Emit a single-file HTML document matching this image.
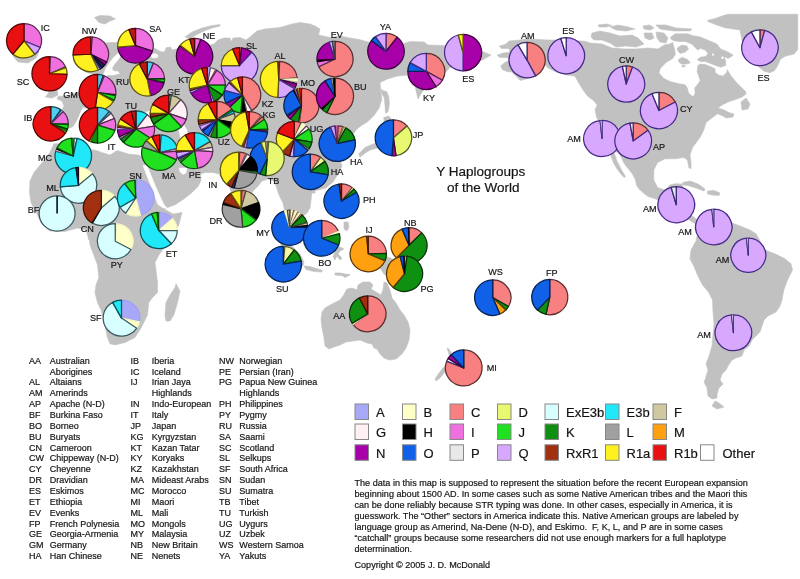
<!DOCTYPE html><html><head><meta charset="utf-8"><title>Y Haplogroups of the World</title><style>
html,body{margin:0;padding:0;background:#fff}body{width:800px;height:579px;position:relative;overflow:hidden;font-family:"Liberation Sans",sans-serif;color:#111}
.t{position:absolute;white-space:nowrap;line-height:1;-webkit-text-stroke:.2px #222}
.m{font-size:9.1px}.l{font-size:9px}.g{font-size:13px}.h{font-size:13.5px}.p{font-size:9.1px}
</style></head><body>
<svg width="800" height="579" viewBox="0 0 800 579" style="position:absolute;left:0;top:0"><g fill="#c1c1c1" stroke="#c1c1c1" stroke-width=".6" stroke-linejoin="round"><path d="M112 42.5 L104 43 L96 45 L88 50 L82 57 L79 64 L82 70 L88 73 L94 74 L97 76 L101 78 L95 80 L92 86 L88 90 L82 91 L76 93 L70 95 L64 96 L58 96.5 L57 99 L62 101 L64 106 L62 110 L54 110 L45 109 L44 114 L45 122 L44 128 L50 131 L60 131 L66 129 L72.5 127 L75 123.5 L77.5 118.8 L80.5 111.5 L83 107 L88 109 L94 114 L100 120 L107 127 L112 132 L109 135 L104 131 L106 124 L100 118 L103 114 L108 118 L114 125 L118 131 L120 137 L123 138 L125 132 L128 130 L126 134 L125 140 L130 144 L138 144 L146 143 L150 146 L148 153 L146 160 L144 166 L148 170 L153 182 L158 193 L162 203 L166.5 208 L175.5 204.5 L184.5 198.5 L192 192.5 L198 186.5 L201 180.5 L200.5 174 L205 172.5 L213 172.5 L219 174 L222 179 L226 181 L229 186 L232 194 L236 204 L239 214 L241 217 L244 208 L248 198 L253 191 L258 186 L262 181 L268 179 L274 181 L276 186 L279 195 L283 203 L285 213 L288 224 L293 234 L298 243 L301 243 L300 236 L298 226 L303 216 L307 213 L310 208 L311 200 L312 191 L318 190 L326 188 L333 182 L338 174 L342 166 L339 158 L341 151 L345 148 L348 152 L351 154 L353 150 L353 145 L351 139 L351 136 L354 133 L356.6 129.2 L361.6 125.4 L367.9 121.6 L374.2 115.3 L379.3 107.7 L381.8 98.9 L380.5 88.8 L380 82.5 L387.5 79 L397.5 76 L409 75 L413 80 L415.5 88 L418 99 L422 92 L427 87 L431 83 L444 74 L450 67.5 L470 62 L482.5 60 L491 55 L481 51 L470 48 L445 45.5 L428 45 L424 42 L410 41.5 L404 43.5 L386 43 L371 42.75 L360 39.75 L350 38 L340 36 L330 37.5 L318.5 35 L320 29 L315 26 L310 24 L300 22.5 L292 24 L280 27.5 L265 29 L257 31 L250 37 L246 40 L240 37.5 L233 38 L231 42 L230 38 L224 38 L218 40 L214 44 L206 46 L196 48 L188 50 L182 49 L176.5 49 L172 50 L170.5 47 L166 47.8 L164.5 52 L160 51.5 L157 49.5 L153 47.5 L146 46 L138 44.5 L130 43 L122 42.5Z" fill="#c1c1c1" /><path d="M53.8 143.8 L50 152.5 L41 164 L34 172.5 L30 181 L29.5 192.5 L31 202.5 L37.5 215 L42 224 L50 231 L65 231.5 L77.5 228 L86 230 L89 240 L89 236 L90 245 L93.8 255 L97.5 265 L98.8 277.5 L96 285 L95 292.5 L97.5 302.5 L101 310 L104 322 L107.5 337.5 L110 343.8 L115 345 L125 342.5 L135 337.5 L141 328 L147.5 315 L148.8 302.5 L152.5 297.5 L157.5 292.5 L157.5 282.5 L156 270 L155 262.5 L158.8 255 L162.5 250 L170 240 L178.8 225 L182 212.5 L173 214 L166 210 L162 205 L157 196 L151 184 L146 172 L146 164 L142.25 157.25 L138.5 155 L129.5 154.25 L122 152 L116.75 150.5 L113.75 152.75 L110 155 L102.5 152.75 L96.5 150.5 L92 149.75 L86 146 L80 144 L66 144Z" fill="#c1c1c1" /><path d="M176 283.8 L180 291 L177.5 302.5 L173.8 315 L170 321 L166 321 L165 315 L166 302.5 L170 295 L175 287.5Z" fill="#c1c1c1" /><path d="M499.25 46.25 L506 44 L509 41 L518 40.25 L527.5 38.8 L547.5 40 L566 40 L585 41.3 L590 43 L602 44 L612 48 L624 49 L636 49 L648 48 L658 49 L664 45 L670 44 L673 42 L700.4 63.5 L705.5 64.1 L710.5 66 L715.6 68.5 L720.6 67.9 L725.7 68.5 L726.9 69.1 L730.7 75.4 L735.8 81.7 L740.8 86.8 L745.8 91.8 L746 94 L742 97 L734 100 L728 102 L722 105 L718 108 L724 110 L730 113 L734 114 L733 117 L726 118 L723 116 L717.5 113.8 L712.5 117.5 L706 122.5 L703.8 130 L700 137.5 L692.5 147.5 L690 155 L691 162.5 L691 168.8 L688.8 167.5 L687.5 160 L683.8 157.5 L675 158.8 L665 158.8 L657.5 162.5 L653.8 170 L653.8 180 L657.5 187.5 L665 190 L670 185 L675 183.8 L682 184 L684 190 L680 196 L684 200 L690 205 L694 212 L690 214 L696 219 L700 222 L697 224 L692 222 L688 219 L680 212 L670 205 L657.5 199.5 L648 196.5 L643.5 193 L639 189 L636.5 185 L635.5 180 L632.5 174 L628.5 169 L624.5 164 L621 157 L618 152 L612.5 152 L598 120 L596.5 117 L595 109.5 L597.25 105 L593.5 100.5 L587.5 96 L583 90 L578.5 82.5 L575 76.25 L566 74.75 L556 72 L548 68 L544.25 63.5 L540 70 L535 76 L528 78.5 L520 80.5 L518 78 L511.25 71.75 L507.5 71.75 L502.25 69.5 L500.75 65.75 L504.5 62.75 L509 60.5 L507.5 57.5 L500 57.5 L497 55.25 L503 53 L509.75 52.25 L509 48.5 L501.5 48.5Z" fill="#c1c1c1" /><path d="M611 153 L614 152 L616.5 160 L619 165 L621.5 170 L625.5 176.5 L624 177.5 L620 173 L616.5 168 L613.5 163 L611 156Z" fill="#c1c1c1" /><path d="M696 222 L700 218 L708 214 L716 212 L724 216 L731 222.5 L740 226 L750 230 L756 233.8 L765 250 L775 253.8 L785 258.8 L791 263.8 L792.5 270 L787.5 280 L783.8 290 L782 300 L780 306 L776 312 L768 316 L764 320 L762 326 L760 332 L752 340 L749 346 L744 350 L742 356 L736 358 L732 360 L728 366 L726 370 L722 374 L720 380 L723 384 L719 388 L717 394 L717 398 L712 399 L708 396 L707 388 L704 382 L705 380 L708 370 L706 364 L709 356 L712 346 L714 324 L713 312 L712.5 300 L708.8 292.5 L702.5 285 L697.5 275 L693.8 266 L690 258.8 L691 250 L696 241 L698 232 L695 226Z" fill="#c1c1c1" /><path d="M715 401 L712 406 L717 409 L724 407 L719 403Z" fill="#c1c1c1" /><path d="M707.75 20.25 L714.5 18.75 L722 16 L728 14.25 L797.75 14.25 L797.75 49.5 L794 54 L785 56.25 L780.5 59.25 L777.5 66 L774.5 70.5 L770 72.75 L764 71.25 L759.5 67.5 L750 60 L745 50 L742 40 L740 30 L725 27.75 L716 24.75 L708 21.5Z" fill="#c1c1c1" /><path d="M322 312 L325 308 L332 304 L340 300 L343 296 L347 289 L352 288 L357 290 L358 285 L363 282 L370 282 L373 285 L371 289 L376 292 L381 295 L383 290 L384 282 L387 283 L390 290 L392 298 L396 303 L400 310 L404 315 L408 322 L410 330 L409 340 L406 348 L402 354 L396 359 L389 360 L384 358 L380 354 L377 349 L374 348 L372 344 L367 343 L360 340 L353 341 L346 342 L340 345 L334 347 L329 349 L325 346 L324 338 L322 328 L321 319Z" fill="#c1c1c1" /><path d="M12 50 L16 44 L26 41 L36 44 L39 52 L36 58 L28 63 L18 62 L13 56Z" fill="#c1c1c1" /><path d="M44 78 L50 76 L54 82 L57 90 L58 95 L52 98 L45.5 97 L49 92 L46 86Z" fill="#c1c1c1" /><path d="M94.5 17.5 L100 15.5 L110 16 L115.5 19 L110 21 L105 24 L99 22.5Z" fill="#c1c1c1" /><path d="M185 37 L192 32 L202 28 L212 25.5 L220 24.5 L220 26 L212 28 L204 31 L196 35 L190 39Z" fill="#c1c1c1" /><path d="M682.5 182.5 L690 181 L698 184 L705 189 L704 191 L696 188 L688 185.5 L683 185Z" fill="#c1c1c1" /><path d="M707.5 191 L714 190.5 L720 193 L719 195.5 L712 195 L707.5 194Z" fill="#c1c1c1" /><path d="M741 102 L746 98 L750 104 L748 109 L742 110Z" fill="#c1c1c1" /><path d="M357 250 L365 246 L372 250 L380 254 L390 258 L400 262 L408 268 L412 274 L416 280 L410 280 L404 276 L396 276 L390 277 L384 274 L380 268 L374 264 L366 262 L360 258Z" fill="#c1c1c1" /><path d="M311 190 L315 190 L315 193 L311 193Z" fill="#c1c1c1" /><path d="M344 222 L348 222 L349 227 L347 231 L344 229Z" fill="#c1c1c1" /><path d="M334 248 L340 247 L344 249 L340 251 L338 254 L342 258 L340 260 L337 256 L335 260 L333 257 L335 252Z" fill="#c1c1c1" /><path d="M304 266 L310 266.5 L318 269 L322 270 L322 272 L314 271.5 L306 269.5Z" fill="#c1c1c1" /><path d="M335 273 L340 273 L348 274.5 L347 276 L340 275.5 L335 275Z" fill="#c1c1c1" /><path d="M343 276 L349 274 L350 275 L345 277.5Z" fill="#c1c1c1" /><path d="M278 238 L284 240 L292 246 L300 254 L304 262 L303 266 L298 264 L290 256 L282 247Z" fill="#c1c1c1" /><path d="M312 232 L320 228 L330 226 L334 234 L332 244 L326 252 L318 254 L313 246Z" fill="#c1c1c1" /><path d="M358.8 153.8 L365 147.5 L373.8 143.8 L380 140 L384 132 L386 125 L389 126 L388 134 L385 142 L378 148 L370 150 L364 154 L360 157Z" fill="#c1c1c1" /><path d="M383.8 117.5 L388.8 116 L391 119 L388 121.5 L384 122Z" fill="#c1c1c1" /><path d="M381 89 L383.7 91 L386.5 91.3 L388.7 96.4 L389.4 104 L388.1 111.5 L385.6 113.4 L385 105.2 L384.3 97.7 L382 94Z" fill="#c1c1c1" /><path d="M335 170 L337.5 169 L337.5 175 L335.5 176Z" fill="#c1c1c1" /><path d="M243 217 L246 218 L246.5 223 L244 224 L242.5 221Z" fill="#c1c1c1" /><path d="M447 348 L449 349 L452 354 L455 357 L453 360 L450 358 L449 354Z" fill="#c1c1c1" /><path d="M447 364 L449 366 L445 372 L440 378 L436 381 L435 379 L439 373 L443 368Z" fill="#c1c1c1" /><path d="M592 33 L600 31 L610 33 L620 36 L632 35 L638 38 L644 44 L636 47 L626 46 L616 47 L610 43 L602 40 L594 40 L591 37Z" fill="#c1c1c1" /><path d="M598 25 L606 24 L612 25.5 L606 27 L599 27Z" fill="#c1c1c1" /><path d="M610 27 L618 25 L628 27 L635 29 L626 31 L616 30Z" fill="#c1c1c1" /><path d="M643 26 L650 25 L654 28 L650 30 L644 29Z" fill="#c1c1c1" /><path d="M656 25 L666 25 L676 28 L692 29 L690 31 L674 31 L660 29Z" fill="#c1c1c1" /><path d="M644 33 L652 33 L654 38 L650 40 L645 38Z" fill="#c1c1c1" /><path d="M656 32 L664 33 L668 38 L666 43 L660 42 L657 38Z" fill="#c1c1c1" /></g><g fill="#fff" stroke="#fff" stroke-width=".4"><path d="M673 42 L675.2 50.2 L675.9 54.6 L672.7 59 L666.4 62.8 L660.7 68.5 L659.5 72.9 L663.9 78 L670.2 81.1 L677.7 83 L685.3 84.3 L687.8 88 L689.1 93.1 L692.9 96.2 L694.8 93.1 L694.1 88 L697.3 84.3 L699.8 80.5 L698.5 76.7 L696.7 71.7 L697.3 65.4 L700.4 63.5 L705.5 64.1 L710.5 66 L715.6 68.5 L715.6 72.3 L718.7 74.8 L723.1 75.4 L726.3 72.3 L726.9 69.1 L730 66 L734 60 L736 54 L730 48 L720 42 L710 38 L700 34 L688 31.8 L676 32 L671 36Z" fill="#fff" /><path d="M143 165.5 L146.75 164.75 L151 175 L155 185 L159.5 195 L164 204.5 L167 208 L163 208 L158 204.5 L154 195 L150.5 185 L146.5 175Z" fill="#fff" /><path d="M179 168 L187 168 L186 173 L183 174.5 L180 172Z" fill="#fff" /><path d="M119 52.5 L121.5 55 L118 60 L114.5 64 L112 68 L113 71 L118 71.5 L119.5 73.5 L113 75 L108 75 L105 78 L101 78 L104 73 L106 68 L110 62 L114 57Z" fill="#fff" /><path d="M151.5 54.5 L155 53.5 L158 55 L157.5 57.5 L153 58 L151 56.5Z" fill="#fff" /><path d="M178 115 L183 113 L186 117 L183.5 121 L184.5 126 L187 130 L187.5 136 L184.5 140 L180.5 139 L179.5 133 L178 128 L179 122Z" fill="#fff" /><path d="M130 118 L138 116 L146 112 L152 110.5 L156 114 L160 119 L156 122 L148 121 L140 123 L133 122Z" fill="#fff" /></g><g fill="#c1c1c1" stroke="#c1c1c1" stroke-width=".6" stroke-linejoin="round"><path d="M670.8 37 L675.2 33.8 L687.8 33.8 L692.9 35.7 L700.4 37 L709.3 40.8 L716.8 43.9 L720.6 49 L728.2 52.1 L733.2 55.3 L728.2 58.4 L724.4 56.5 L725.7 61.6 L725.7 65.4 L720.6 67.2 L715.6 65.4 L710.5 63.5 L705.5 61.6 L700.4 61.6 L697.3 59.7 L700.4 57.2 L705.5 56.5 L708 53.4 L705.5 50.2 L700.4 48.3 L697.9 50.2 L695.4 47.7 L691.6 43.9 L685.3 41.4 L679 41.4 L674 40.8 L670.8 38.9Z" fill="#c1c1c1" /><path d="M677.1 48.3 L681.5 45.2 L686.6 45.8 L688.5 49 L685.3 52.1 L680.3 53.4 L677.7 50.9Z" fill="#c1c1c1" /><path d="M678.4 59.7 L682.2 57.2 L687.8 59.7 L690.4 62.8 L686.6 64.1 L681.5 64.1 L679 62.2Z" fill="#c1c1c1" /><path d="M682 65.3 L685 65.3 L685 66.8 L682 66.8Z" fill="#c1c1c1" /></g><g fill="#fff"><circle cx="700.4" cy="51" r="1.4"/><circle cx="713" cy="54.6" r="1.1"/><circle cx="722.5" cy="57.8" r="1.3"/></g><g stroke-linejoin="round" stroke-linecap="butt"><path d="M24 40.75L24 23.52A17.57 17.23 0 0 1 40.18 47.48Z" fill="#F070E0" stroke="#562850" stroke-width="1.25"/><path d="M24 40.75L40.18 47.48A17.57 17.23 0 0 1 34.82 54.32Z" fill="#D8A8FF" stroke="#452a88" stroke-width="1.25"/><path d="M24 40.75L34.82 54.32A17.57 17.23 0 0 1 12.94 54.14Z" fill="#FFF020" stroke="#5b560b" stroke-width="1.25"/><path d="M24 40.75L12.94 54.14A17.57 17.23 0 0 1 24 23.52Z" fill="#E81010" stroke="#530505" stroke-width="1.25"/></g><g stroke-linejoin="round" stroke-linecap="butt"><path d="M49.5 73.75L49.5 56.52A17.57 17.23 0 0 1 50.42 56.55Z" fill="#109010" stroke="#053305" stroke-width="0.4"/><path d="M49.5 73.75L50.42 56.55A17.57 17.23 0 0 1 65.55 66.74Z" fill="#F070E0" stroke="#562850" stroke-width="1.25"/><path d="M49.5 73.75L65.55 66.74A17.57 17.23 0 0 1 65.91 67.58Z" fill="#109010" stroke="#053305" stroke-width="0.4"/><path d="M49.5 73.75L65.91 67.58A17.57 17.23 0 0 1 67.06 74.35Z" fill="#FFF020" stroke="#5b560b" stroke-width="1.25"/><path d="M49.5 73.75L67.06 74.35A17.57 17.23 0 1 1 49.5 56.52Z" fill="#E81010" stroke="#530505" stroke-width="1.25"/></g><g stroke-linejoin="round" stroke-linecap="butt"><path d="M50.75 123.8L50.75 106.57A17.57 17.23 0 0 1 60.83 109.69Z" fill="#50D0F0" stroke="#1c4a56" stroke-width="1.25"/><path d="M50.75 123.8L60.83 109.69A17.57 17.23 0 0 1 61.57 110.23Z" fill="#203090" stroke="#0b1133" stroke-width="0.4"/><path d="M50.75 123.8L61.57 110.23A17.57 17.23 0 0 1 63.18 111.62Z" fill="#50D0F0" stroke="#1c4a56" stroke-width="0.8"/><path d="M50.75 123.8L63.18 111.62A17.57 17.23 0 0 1 68.32 123.8Z" fill="#F070E0" stroke="#562850" stroke-width="1.25"/><path d="M50.75 123.8L68.32 123.8A17.57 17.23 0 0 1 68.3 124.7Z" fill="#109010" stroke="#053305" stroke-width="0.4"/><path d="M50.75 123.8L68.3 124.7A17.57 17.23 0 0 1 67.46 129.12Z" fill="#20E020" stroke="#0b500b" stroke-width="1.25"/><path d="M50.75 123.8L67.46 129.12A17.57 17.23 0 0 1 66.27 131.89Z" fill="#109010" stroke="#053305" stroke-width="1.25"/><path d="M50.75 123.8L66.27 131.89A17.57 17.23 0 0 1 65.65 132.93Z" fill="#FFF020" stroke="#5b560b" stroke-width="0.4"/><path d="M50.75 123.8L65.65 132.93A17.57 17.23 0 1 1 50.75 106.57Z" fill="#E81010" stroke="#530505" stroke-width="1.25"/></g><g stroke-linejoin="round" stroke-linecap="butt"><path d="M90.8 54.25L90.8 36.83A17.78 17.42 0 0 1 92.35 36.89Z" fill="#20E8F8" stroke="#0b5359" stroke-width="0.8"/><path d="M90.8 54.25L92.35 36.89A17.78 17.42 0 0 1 106.64 62.16Z" fill="#F070E0" stroke="#562850" stroke-width="1.25"/><path d="M90.8 54.25L106.64 62.16A17.78 17.42 0 0 1 104.81 64.98Z" fill="#A800A8" stroke="#3c003c" stroke-width="1.25"/><path d="M90.8 54.25L104.81 64.98A17.78 17.42 0 0 1 102.23 67.6Z" fill="#302050" stroke="#110b1c" stroke-width="1.25"/><path d="M90.8 54.25L102.23 67.6A17.78 17.42 0 0 1 99.69 69.34Z" fill="#203090" stroke="#0b1133" stroke-width="1.25"/><path d="M90.8 54.25L99.69 69.34A17.78 17.42 0 0 1 98.31 70.04Z" fill="#FFF0F4" stroke="#5a4460" stroke-width="0.8"/><path d="M90.8 54.25L98.31 70.04A17.78 17.42 0 0 1 73.03 54.86Z" fill="#FFF020" stroke="#5b560b" stroke-width="1.25"/><path d="M90.8 54.25L73.03 54.86A17.78 17.42 0 0 1 90.8 36.83Z" fill="#E81010" stroke="#530505" stroke-width="1.25"/></g><g stroke-linejoin="round" stroke-linecap="butt"><path d="M135.5 45.7L135.5 28.28A17.78 17.42 0 0 1 152.41 51.08Z" fill="#F070E0" stroke="#562850" stroke-width="1.25"/><path d="M135.5 45.7L152.41 51.08A17.78 17.42 0 0 1 117.79 47.22Z" fill="#A800A8" stroke="#3c003c" stroke-width="1.25"/><path d="M135.5 45.7L117.79 47.22A17.78 17.42 0 0 1 128.84 29.54Z" fill="#FFF020" stroke="#5b560b" stroke-width="1.25"/><path d="M135.5 45.7L128.84 29.54A17.78 17.42 0 0 1 135.5 28.28Z" fill="#C01818" stroke="#450808" stroke-width="1.25"/></g><g stroke-linejoin="round" stroke-linecap="butt"><path d="M97.5 92.5L97.5 74.48A18.38 18.02 0 0 1 103.18 75.36Z" fill="#50D0F0" stroke="#1c4a56" stroke-width="1.25"/><path d="M97.5 92.5L103.18 75.36A18.38 18.02 0 0 1 104.39 75.79Z" fill="#203090" stroke="#0b1133" stroke-width="0.4"/><path d="M97.5 92.5L104.39 75.79A18.38 18.02 0 0 1 115.74 94.7Z" fill="#F070E0" stroke="#562850" stroke-width="1.25"/><path d="M97.5 92.5L115.74 94.7A18.38 18.02 0 0 1 115.6 95.63Z" fill="#000000" stroke="#000000" stroke-width="0.4"/><path d="M97.5 92.5L115.6 95.63A18.38 18.02 0 0 1 114.16 100.11Z" fill="#20E020" stroke="#0b500b" stroke-width="1.25"/><path d="M97.5 92.5L114.16 100.11A18.38 18.02 0 0 1 113.42 101.51Z" fill="#109010" stroke="#053305" stroke-width="0.8"/><path d="M97.5 92.5L113.42 101.51A18.38 18.02 0 0 1 94.94 110.34Z" fill="#FFF020" stroke="#5b560b" stroke-width="1.25"/><path d="M97.5 92.5L94.94 110.34A18.38 18.02 0 0 1 97.5 74.48Z" fill="#E81010" stroke="#530505" stroke-width="1.25"/></g><g stroke-linejoin="round" stroke-linecap="butt"><path d="M97.5 125.2L97.5 107.38A18.18 17.82 0 0 1 109.19 111.55Z" fill="#50D0F0" stroke="#1c4a56" stroke-width="1.25"/><path d="M97.5 125.2L109.19 111.55A18.18 17.82 0 0 1 111.01 113.28Z" fill="#50D0F0" stroke="#1c4a56" stroke-width="1.25"/><path d="M97.5 125.2L111.01 113.28A18.18 17.82 0 0 1 114.36 118.52Z" fill="#FFF0F4" stroke="#5a4460" stroke-width="1.25"/><path d="M97.5 125.2L114.36 118.52A18.18 17.82 0 0 1 114.89 130.41Z" fill="#F070E0" stroke="#562850" stroke-width="1.25"/><path d="M97.5 125.2L114.89 130.41A18.18 17.82 0 0 1 97.5 143.02Z" fill="#20E020" stroke="#0b500b" stroke-width="1.25"/><path d="M97.5 125.2L97.5 143.02A18.18 17.82 0 0 1 90.4 141.6Z" fill="#109010" stroke="#053305" stroke-width="1.25"/><path d="M97.5 125.2L90.4 141.6A18.18 17.82 0 0 1 89.25 141.08Z" fill="#FFF020" stroke="#5b560b" stroke-width="0.4"/><path d="M97.5 125.2L89.25 141.08A18.18 17.82 0 0 1 97.5 107.38Z" fill="#E81010" stroke="#530505" stroke-width="1.25"/></g><g stroke-linejoin="round" stroke-linecap="butt"><path d="M147.2 79L147.2 61.97A17.37 17.03 0 0 1 153.43 63.1Z" fill="#50D0F0" stroke="#1c4a56" stroke-width="1.25"/><path d="M147.2 79L153.43 63.1A17.37 17.03 0 0 1 164.56 78.41Z" fill="#F070E0" stroke="#562850" stroke-width="1.25"/><path d="M147.2 79L164.56 78.41A17.37 17.03 0 0 1 164.57 79Z" fill="#000000" stroke="#000000" stroke-width="0.4"/><path d="M147.2 79L164.57 79A17.37 17.03 0 0 1 164.31 81.96Z" fill="#20E020" stroke="#0b500b" stroke-width="1.25"/><path d="M147.2 79L164.31 81.96A17.37 17.03 0 0 1 164.06 83.12Z" fill="#109010" stroke="#053305" stroke-width="0.4"/><path d="M147.2 79L164.06 83.12A17.37 17.03 0 0 1 150.51 95.72Z" fill="#A800A8" stroke="#3c003c" stroke-width="1.25"/><path d="M147.2 79L150.51 95.72A17.37 17.03 0 0 1 139.31 63.83Z" fill="#FFF020" stroke="#5b560b" stroke-width="1.25"/><path d="M147.2 79L139.31 63.83A17.37 17.03 0 0 1 147.2 61.97Z" fill="#C01818" stroke="#450808" stroke-width="1.25"/></g><g stroke-linejoin="round" stroke-linecap="butt"><path d="M136 129L136 110.78A18.58 18.22 0 0 1 147.44 114.65Z" fill="#20E8F8" stroke="#0b5359" stroke-width="1.25"/><path d="M136 129L147.44 114.65A18.58 18.22 0 0 1 154.36 126.15Z" fill="#FFF0F4" stroke="#5a4460" stroke-width="1.25"/><path d="M136 129L154.36 126.15A18.58 18.22 0 0 1 151.59 138.92Z" fill="#F070E0" stroke="#562850" stroke-width="1.25"/><path d="M136 129L151.59 138.92A18.58 18.22 0 0 1 123.33 142.32Z" fill="#20E020" stroke="#0b500b" stroke-width="1.25"/><path d="M136 129L123.33 142.32A18.58 18.22 0 0 1 120.41 138.92Z" fill="#109010" stroke="#053305" stroke-width="1.25"/><path d="M136 129L120.41 138.92A18.58 18.22 0 0 1 119.16 136.7Z" fill="#A0A0A0" stroke="#393939" stroke-width="1.25"/><path d="M136 129L119.16 136.7A18.58 18.22 0 0 1 117.43 129.64Z" fill="#A800A8" stroke="#3c003c" stroke-width="1.25"/><path d="M136 129L117.43 129.64A18.58 18.22 0 0 1 117.49 127.41Z" fill="#D8A8FF" stroke="#452a88" stroke-width="0.8"/><path d="M136 129L117.49 127.41A18.58 18.22 0 0 1 117.82 125.21Z" fill="#A03010" stroke="#391105" stroke-width="0.8"/><path d="M136 129L117.82 125.21A18.58 18.22 0 0 1 120.41 119.08Z" fill="#FFF020" stroke="#5b560b" stroke-width="1.25"/><path d="M136 129L120.41 119.08A18.58 18.22 0 0 1 131.19 111.4Z" fill="#E81010" stroke="#530505" stroke-width="1.25"/><path d="M136 129L131.19 111.4A18.58 18.22 0 0 1 136 110.78Z" fill="#C01818" stroke="#450808" stroke-width="1.25"/></g><g stroke-linejoin="round" stroke-linecap="butt"><path d="M168.75 113.4L168.75 95.18A18.58 18.22 0 0 1 171.34 95.36Z" fill="#20E8F8" stroke="#0b5359" stroke-width="1.25"/><path d="M168.75 113.4L171.34 95.36A18.58 18.22 0 0 1 180.94 99.65Z" fill="#D0C8A0" stroke="#4a4839" stroke-width="1.25"/><path d="M168.75 113.4L180.94 99.65A18.58 18.22 0 0 1 186.32 119.33Z" fill="#FFF0F4" stroke="#5a4460" stroke-width="1.25"/><path d="M168.75 113.4L186.32 119.33A18.58 18.22 0 0 1 181.42 126.72Z" fill="#F070E0" stroke="#562850" stroke-width="1.25"/><path d="M168.75 113.4L181.42 126.72A18.58 18.22 0 0 1 153.72 124.11Z" fill="#20E020" stroke="#0b500b" stroke-width="1.25"/><path d="M168.75 113.4L153.72 124.11A18.58 18.22 0 0 1 150.57 117.19Z" fill="#109010" stroke="#053305" stroke-width="1.25"/><path d="M168.75 113.4L150.57 117.19A18.58 18.22 0 0 1 150.17 113.08Z" fill="#A03010" stroke="#391105" stroke-width="1.25"/><path d="M168.75 113.4L150.17 113.08A18.58 18.22 0 0 1 152.66 104.29Z" fill="#FFF020" stroke="#5b560b" stroke-width="1.25"/><path d="M168.75 113.4L152.66 104.29A18.58 18.22 0 0 1 168.75 95.18Z" fill="#E81010" stroke="#530505" stroke-width="1.25"/></g><g stroke-linejoin="round" stroke-linecap="butt"><path d="M159.75 152.6L159.75 134.78A18.18 17.82 0 0 1 161.33 134.85Z" fill="#FFF0F4" stroke="#5a4460" stroke-width="0.8"/><path d="M159.75 152.6L161.33 134.85A18.18 17.82 0 0 1 177.46 148.59Z" fill="#20E8F8" stroke="#0b5359" stroke-width="1.25"/><path d="M159.75 152.6L177.46 148.59A18.18 17.82 0 0 1 177.86 151.05Z" fill="#FFF0F4" stroke="#5a4460" stroke-width="1.25"/><path d="M159.75 152.6L177.86 151.05A18.18 17.82 0 0 1 176.36 159.85Z" fill="#F070E0" stroke="#562850" stroke-width="1.25"/><path d="M159.75 152.6L176.36 159.85A18.18 17.82 0 0 1 142.46 147.09Z" fill="#20E020" stroke="#0b500b" stroke-width="1.25"/><path d="M159.75 152.6L142.46 147.09A18.18 17.82 0 0 1 146.45 140.45Z" fill="#A0A0A0" stroke="#393939" stroke-width="1.25"/><path d="M159.75 152.6L146.45 140.45A18.18 17.82 0 0 1 151.78 136.58Z" fill="#FFF020" stroke="#5b560b" stroke-width="1.25"/><path d="M159.75 152.6L151.78 136.58A18.18 17.82 0 0 1 159.75 134.78Z" fill="#E81010" stroke="#530505" stroke-width="1.25"/></g><g stroke-linejoin="round" stroke-linecap="butt"><path d="M194.45 150.6L194.45 132.68A18.28 17.92 0 0 1 210.28 141.64Z" fill="#20E8F8" stroke="#0b5359" stroke-width="1.25"/><path d="M194.45 150.6L210.28 141.64A18.28 17.92 0 0 1 212.45 147.49Z" fill="#D0C8A0" stroke="#4a4839" stroke-width="1.25"/><path d="M194.45 150.6L212.45 147.49A18.28 17.92 0 0 1 212.71 151.54Z" fill="#FFF0F4" stroke="#5a4460" stroke-width="1.25"/><path d="M194.45 150.6L212.71 151.54A18.28 17.92 0 0 1 197.62 168.25Z" fill="#F070E0" stroke="#562850" stroke-width="1.25"/><path d="M194.45 150.6L197.62 168.25A18.28 17.92 0 0 1 180.65 162.36Z" fill="#20E020" stroke="#0b500b" stroke-width="1.25"/><path d="M194.45 150.6L180.65 162.36A18.28 17.92 0 0 1 179.29 160.62Z" fill="#109010" stroke="#053305" stroke-width="0.8"/><path d="M194.45 150.6L179.29 160.62A18.28 17.92 0 0 1 178.46 159.29Z" fill="#A0A0A0" stroke="#393939" stroke-width="0.8"/><path d="M194.45 150.6L178.46 159.29A18.28 17.92 0 0 1 177.75 157.89Z" fill="#203090" stroke="#0b1133" stroke-width="0.8"/><path d="M194.45 150.6L177.75 157.89A18.28 17.92 0 0 1 176.24 152.16Z" fill="#D8A8FF" stroke="#452a88" stroke-width="1.25"/><path d="M194.45 150.6L176.24 152.16A18.28 17.92 0 0 1 176.17 150.29Z" fill="#A03010" stroke="#391105" stroke-width="0.8"/><path d="M194.45 150.6L176.17 150.29A18.28 17.92 0 0 1 185.31 135.08Z" fill="#FFF020" stroke="#5b560b" stroke-width="1.25"/><path d="M194.45 150.6L185.31 135.08A18.28 17.92 0 0 1 194.45 132.68Z" fill="#E81010" stroke="#530505" stroke-width="1.25"/></g><g stroke-linejoin="round" stroke-linecap="butt"><path d="M194.55 56.2L194.55 38.38A18.18 17.82 0 0 1 200.77 39.45Z" fill="#F070E0" stroke="#562850" stroke-width="1.25"/><path d="M194.55 56.2L200.77 39.45A18.18 17.82 0 1 1 179.66 45.98Z" fill="#A800A8" stroke="#3c003c" stroke-width="1.25"/><path d="M194.55 56.2L179.66 45.98A18.18 17.82 0 0 1 180.22 45.23Z" fill="#A03010" stroke="#391105" stroke-width="0.4"/><path d="M194.55 56.2L180.22 45.23A18.18 17.82 0 0 1 189.84 38.99Z" fill="#FFF020" stroke="#5b560b" stroke-width="1.25"/><path d="M194.55 56.2L189.84 38.99A18.18 17.82 0 0 1 194.55 38.38Z" fill="#C01818" stroke="#450808" stroke-width="1.25"/></g><g stroke-linejoin="round" stroke-linecap="butt"><path d="M207.3 85.2L207.3 67.48A18.08 17.72 0 0 1 210.44 67.75Z" fill="#A8A8F8" stroke="#a0a0f0" stroke-width="1.25"/><path d="M207.3 85.2L210.44 67.75A18.08 17.72 0 0 1 215.79 69.55Z" fill="#FFF0F4" stroke="#5a4460" stroke-width="1.25"/><path d="M207.3 85.2L215.79 69.55A18.08 17.72 0 0 1 216.88 70.17Z" fill="#F88080" stroke="#592e2e" stroke-width="0.4"/><path d="M207.3 85.2L216.88 70.17A18.08 17.72 0 0 1 225.38 85.2Z" fill="#F070E0" stroke="#562850" stroke-width="1.25"/><path d="M207.3 85.2L225.38 85.2A18.08 17.72 0 0 1 222.29 95.11Z" fill="#20E020" stroke="#0b500b" stroke-width="1.25"/><path d="M207.3 85.2L222.29 95.11A18.08 17.72 0 0 1 214.07 101.63Z" fill="#109010" stroke="#053305" stroke-width="1.25"/><path d="M207.3 85.2L214.07 101.63A18.08 17.72 0 0 1 211.98 102.32Z" fill="#D8A8FF" stroke="#452a88" stroke-width="0.8"/><path d="M207.3 85.2L211.98 102.32A18.08 17.72 0 0 1 191.05 92.97Z" fill="#A800A8" stroke="#3c003c" stroke-width="1.25"/><path d="M207.3 85.2L191.05 92.97A18.08 17.72 0 0 1 190.11 90.68Z" fill="#D8A8FF" stroke="#452a88" stroke-width="1.25"/><path d="M207.3 85.2L190.11 90.68A18.08 17.72 0 0 1 189.62 88.88Z" fill="#A03010" stroke="#391105" stroke-width="0.8"/><path d="M207.3 85.2L189.62 88.88A18.08 17.72 0 0 1 201.71 68.35Z" fill="#FFF020" stroke="#5b560b" stroke-width="1.25"/><path d="M207.3 85.2L201.71 68.35A18.08 17.72 0 0 1 207.3 67.48Z" fill="#E81010" stroke="#530505" stroke-width="1.25"/></g><g stroke-linejoin="round" stroke-linecap="butt"><path d="M239.55 65.6L239.55 47.68A18.28 17.92 0 0 1 241.46 47.78Z" fill="#F88080" stroke="#592e2e" stroke-width="0.8"/><path d="M239.55 65.6L241.46 47.78A18.28 17.92 0 0 1 251.78 52.28Z" fill="#A800A8" stroke="#3c003c" stroke-width="1.25"/><path d="M239.55 65.6L251.78 52.28A18.28 17.92 0 1 1 221.27 65.6Z" fill="#D8A8FF" stroke="#452a88" stroke-width="1.25"/><path d="M239.55 65.6L221.27 65.6A18.28 17.92 0 0 1 232.7 48.99Z" fill="#FFF020" stroke="#5b560b" stroke-width="1.25"/><path d="M239.55 65.6L232.7 48.99A18.28 17.92 0 0 1 239.55 47.68Z" fill="#E81010" stroke="#530505" stroke-width="1.25"/></g><g stroke-linejoin="round" stroke-linecap="butt"><path d="M242.4 95L242.4 76.98A18.38 18.02 0 0 1 251.59 110.6Z" fill="#F88080" stroke="#592e2e" stroke-width="1.25"/><path d="M242.4 95L251.59 110.6A18.38 18.02 0 0 1 247.16 112.4Z" fill="#FFF0F4" stroke="#5a4460" stroke-width="1.25"/><path d="M242.4 95L247.16 112.4A18.38 18.02 0 0 1 245.91 112.69Z" fill="#D0C8A0" stroke="#4a4839" stroke-width="0.4"/><path d="M242.4 95L245.91 112.69A18.38 18.02 0 0 1 240.8 112.95Z" fill="#000000" stroke="#000000" stroke-width="1.25"/><path d="M242.4 95L240.8 112.95A18.38 18.02 0 0 1 229.18 107.52Z" fill="#20E020" stroke="#0b500b" stroke-width="1.25"/><path d="M242.4 95L229.18 107.52A18.38 18.02 0 0 1 226.02 103.18Z" fill="#A800A8" stroke="#3c003c" stroke-width="1.25"/><path d="M242.4 95L226.02 103.18A18.38 18.02 0 0 1 224.64 90.34Z" fill="#1060E8" stroke="#052253" stroke-width="1.25"/><path d="M242.4 95L224.64 90.34A18.38 18.02 0 0 1 228.96 82.71Z" fill="#D8A8FF" stroke="#452a88" stroke-width="1.25"/><path d="M242.4 95L228.96 82.71A18.38 18.02 0 0 1 230.1 81.61Z" fill="#A03010" stroke="#391105" stroke-width="0.8"/><path d="M242.4 95L230.1 81.61A18.38 18.02 0 0 1 237.64 77.6Z" fill="#FFF020" stroke="#5b560b" stroke-width="1.25"/><path d="M242.4 95L237.64 77.6A18.38 18.02 0 0 1 242.4 76.98Z" fill="#E81010" stroke="#530505" stroke-width="1.25"/></g><g stroke-linejoin="round" stroke-linecap="butt"><path d="M216.8 119.6L216.8 101.38A18.58 18.22 0 0 1 232.02 109.15Z" fill="#F88080" stroke="#592e2e" stroke-width="1.25"/><path d="M216.8 119.6L232.02 109.15A18.58 18.22 0 0 1 233.21 111.05Z" fill="#109010" stroke="#053305" stroke-width="0.8"/><path d="M216.8 119.6L233.21 111.05A18.58 18.22 0 0 1 234.26 113.37Z" fill="#20E8F8" stroke="#0b5359" stroke-width="1.25"/><path d="M216.8 119.6L234.26 113.37A18.58 18.22 0 0 1 235.1 122.76Z" fill="#D0C8A0" stroke="#4a4839" stroke-width="1.25"/><path d="M216.8 119.6L235.1 122.76A18.58 18.22 0 0 1 232.21 129.79Z" fill="#000000" stroke="#000000" stroke-width="1.25"/><path d="M216.8 119.6L232.21 129.79A18.58 18.22 0 0 1 216.8 137.82Z" fill="#20E020" stroke="#0b500b" stroke-width="1.25"/><path d="M216.8 119.6L216.8 137.82A18.58 18.22 0 0 1 210.44 136.72Z" fill="#109010" stroke="#053305" stroke-width="1.25"/><path d="M216.8 119.6L210.44 136.72A18.58 18.22 0 0 1 208.36 135.83Z" fill="#A0A0A0" stroke="#393939" stroke-width="0.8"/><path d="M216.8 119.6L208.36 135.83A18.58 18.22 0 0 1 202.56 131.31Z" fill="#1060E8" stroke="#052253" stroke-width="1.25"/><path d="M216.8 119.6L202.56 131.31A18.58 18.22 0 0 1 201.58 130.05Z" fill="#203090" stroke="#0b1133" stroke-width="0.8"/><path d="M216.8 119.6L201.58 130.05A18.58 18.22 0 0 1 199.34 125.83Z" fill="#D8A8FF" stroke="#452a88" stroke-width="1.25"/><path d="M216.8 119.6L199.34 125.83A18.58 18.22 0 0 1 198.85 124.31Z" fill="#FFF0F4" stroke="#5a4460" stroke-width="0.8"/><path d="M216.8 119.6L198.85 124.31A18.58 18.22 0 0 1 198.22 119.28Z" fill="#A03010" stroke="#391105" stroke-width="1.25"/><path d="M216.8 119.6L198.22 119.28A18.58 18.22 0 0 1 208.08 103.52Z" fill="#FFF020" stroke="#5b560b" stroke-width="1.25"/><path d="M216.8 119.6L208.08 103.52A18.58 18.22 0 0 1 216.8 101.38Z" fill="#E81010" stroke="#530505" stroke-width="1.25"/></g><g stroke-linejoin="round" stroke-linecap="butt"><path d="M278.7 79.4L278.7 61.28A18.48 18.12 0 0 1 279.67 61.31Z" fill="#D0C8A0" stroke="#4a4839" stroke-width="0.4"/><path d="M278.7 79.4L279.67 61.31A18.48 18.12 0 0 1 297.11 77.82Z" fill="#F88080" stroke="#592e2e" stroke-width="1.25"/><path d="M278.7 79.4L297.11 77.82A18.48 18.12 0 0 1 297.17 78.77Z" fill="#D0C8A0" stroke="#4a4839" stroke-width="0.4"/><path d="M278.7 79.4L297.17 78.77A18.48 18.12 0 0 1 297 81.92Z" fill="#FFFFC8" stroke="#f4f4c0" stroke-width="1.25"/><path d="M278.7 79.4L297 81.92A18.48 18.12 0 0 1 296.78 83.17Z" fill="#FFF0F4" stroke="#5a4460" stroke-width="0.4"/><path d="M278.7 79.4L296.78 83.17A18.48 18.12 0 0 1 296.55 84.09Z" fill="#000000" stroke="#000000" stroke-width="0.4"/><path d="M278.7 79.4L296.55 84.09A18.48 18.12 0 0 1 295.02 87.91Z" fill="#A800A8" stroke="#3c003c" stroke-width="1.25"/><path d="M278.7 79.4L295.02 87.91A18.48 18.12 0 0 1 294.54 88.73Z" fill="#E8F870" stroke="#535928" stroke-width="0.4"/><path d="M278.7 79.4L294.54 88.73A18.48 18.12 0 0 1 277.73 97.49Z" fill="#D8A8FF" stroke="#452a88" stroke-width="1.25"/><path d="M278.7 79.4L277.73 97.49A18.48 18.12 0 0 1 277.73 61.31Z" fill="#FFF020" stroke="#5b560b" stroke-width="1.25"/><path d="M278.7 79.4L277.73 61.31A18.48 18.12 0 0 1 278.7 61.28Z" fill="#A03010" stroke="#391105" stroke-width="0.4"/></g><g stroke-linejoin="round" stroke-linecap="butt"><path d="M301.5 105.6L301.5 88.27A17.68 17.32 0 1 1 299.35 122.8Z" fill="#F88080" stroke="#592e2e" stroke-width="1.25"/><path d="M301.5 105.6L299.35 122.8A17.68 17.32 0 0 1 298.43 122.66Z" fill="#FFF0F4" stroke="#5a4460" stroke-width="0.4"/><path d="M301.5 105.6L298.43 122.66A17.68 17.32 0 0 1 290.14 118.87Z" fill="#109010" stroke="#053305" stroke-width="1.25"/><path d="M301.5 105.6L290.14 118.87A17.68 17.32 0 0 1 287.57 116.27Z" fill="#A800A8" stroke="#3c003c" stroke-width="1.25"/><path d="M301.5 105.6L287.57 116.27A17.68 17.32 0 0 1 286.85 115.29Z" fill="#203090" stroke="#0b1133" stroke-width="0.4"/><path d="M301.5 105.6L286.85 115.29A17.68 17.32 0 0 1 293.2 90.3Z" fill="#1060E8" stroke="#052253" stroke-width="1.25"/><path d="M301.5 105.6L293.2 90.3A17.68 17.32 0 0 1 294.59 89.65Z" fill="#000000" stroke="#000000" stroke-width="0.8"/><path d="M301.5 105.6L294.59 89.65A17.68 17.32 0 0 1 296.04 89.12Z" fill="#D8A8FF" stroke="#452a88" stroke-width="0.8"/><path d="M301.5 105.6L296.04 89.12A17.68 17.32 0 0 1 297.83 88.65Z" fill="#A03010" stroke="#391105" stroke-width="0.8"/><path d="M301.5 105.6L297.83 88.65A17.68 17.32 0 0 1 299.35 88.4Z" fill="#FFF020" stroke="#5b560b" stroke-width="0.8"/><path d="M301.5 105.6L299.35 88.4A17.68 17.32 0 0 1 301.5 88.27Z" fill="#E81010" stroke="#530505" stroke-width="0.8"/></g><g stroke-linejoin="round" stroke-linecap="butt"><path d="M335 96.3L335 78.08A18.58 18.22 0 1 1 326.85 112.67Z" fill="#F88080" stroke="#592e2e" stroke-width="1.25"/><path d="M335 96.3L326.85 112.67A18.58 18.22 0 0 1 322.33 109.62Z" fill="#109010" stroke="#053305" stroke-width="1.25"/><path d="M335 96.3L322.33 109.62A18.58 18.22 0 0 1 321.19 108.49Z" fill="#000000" stroke="#000000" stroke-width="0.8"/><path d="M335 96.3L321.19 108.49A18.58 18.22 0 0 1 325.15 80.85Z" fill="#A800A8" stroke="#3c003c" stroke-width="1.25"/><path d="M335 96.3L325.15 80.85A18.58 18.22 0 0 1 331.14 78.48Z" fill="#1060E8" stroke="#052253" stroke-width="1.25"/><path d="M335 96.3L331.14 78.48A18.58 18.22 0 0 1 333.06 78.18Z" fill="#D0C8A0" stroke="#4a4839" stroke-width="0.8"/><path d="M335 96.3L333.06 78.18A18.58 18.22 0 0 1 335 78.08Z" fill="#000000" stroke="#000000" stroke-width="0.8"/></g><g stroke-linejoin="round" stroke-linecap="butt"><path d="M335 59L335 41.28A18.08 17.72 0 1 1 318.75 66.77Z" fill="#F88080" stroke="#592e2e" stroke-width="1.25"/><path d="M335 59L318.75 66.77A18.08 17.72 0 0 1 317.14 61.77Z" fill="#F070E0" stroke="#562850" stroke-width="1.25"/><path d="M335 59L317.14 61.77A18.08 17.72 0 0 1 316.95 59.93Z" fill="#000000" stroke="#000000" stroke-width="0.8"/><path d="M335 59L316.95 59.93A18.08 17.72 0 0 1 329.11 42.24Z" fill="#A800A8" stroke="#3c003c" stroke-width="1.25"/><path d="M335 59L329.11 42.24A18.08 17.72 0 0 1 332.48 41.45Z" fill="#D8A8FF" stroke="#452a88" stroke-width="1.25"/><path d="M335 59L332.48 41.45A18.08 17.72 0 0 1 335 41.28Z" fill="#A0A0A0" stroke="#393939" stroke-width="1.25"/></g><g stroke-linejoin="round" stroke-linecap="butt"><path d="M386 51.3L386 33.38A18.28 17.92 0 0 1 397.25 37.18Z" fill="#F88080" stroke="#592e2e" stroke-width="1.25"/><path d="M386 51.3L397.25 37.18A18.28 17.92 0 1 1 371.4 40.52Z" fill="#A800A8" stroke="#3c003c" stroke-width="1.25"/><path d="M386 51.3L371.4 40.52A18.28 17.92 0 0 1 375.51 36.62Z" fill="#1060E8" stroke="#052253" stroke-width="1.25"/><path d="M386 51.3L375.51 36.62A18.28 17.92 0 0 1 386 33.38Z" fill="#D8A8FF" stroke="#452a88" stroke-width="1.25"/></g><g stroke-linejoin="round" stroke-linecap="butt"><path d="M249.2 129.8L249.2 111.58A18.58 18.22 0 0 1 261.15 115.85Z" fill="#F88080" stroke="#592e2e" stroke-width="1.25"/><path d="M249.2 129.8L261.15 115.85A18.58 18.22 0 0 1 262.11 116.7Z" fill="#D0C8A0" stroke="#4a4839" stroke-width="0.4"/><path d="M249.2 129.8L262.11 116.7A18.58 18.22 0 0 1 264.42 119.35Z" fill="#F88080" stroke="#592e2e" stroke-width="1.25"/><path d="M249.2 129.8L264.42 119.35A18.58 18.22 0 0 1 267.77 129.16Z" fill="#20E020" stroke="#0b500b" stroke-width="1.25"/><path d="M249.2 129.8L267.77 129.16A18.58 18.22 0 0 1 267.76 130.75Z" fill="#109010" stroke="#053305" stroke-width="0.8"/><path d="M249.2 129.8L267.76 130.75A18.58 18.22 0 0 1 267.65 132.02Z" fill="#A800A8" stroke="#3c003c" stroke-width="0.4"/><path d="M249.2 129.8L267.65 132.02A18.58 18.22 0 0 1 245.97 147.74Z" fill="#1060E8" stroke="#052253" stroke-width="1.25"/><path d="M249.2 129.8L245.97 147.74A18.58 18.22 0 0 1 243.77 147.22Z" fill="#D8A8FF" stroke="#452a88" stroke-width="0.8"/><path d="M249.2 129.8L243.77 147.22A18.58 18.22 0 0 1 241.64 146.44Z" fill="#A03010" stroke="#391105" stroke-width="0.8"/><path d="M249.2 129.8L241.64 146.44A18.58 18.22 0 0 1 245.97 111.86Z" fill="#FFF020" stroke="#5b560b" stroke-width="1.25"/><path d="M249.2 129.8L245.97 111.86A18.58 18.22 0 0 1 249.2 111.58Z" fill="#E81010" stroke="#530505" stroke-width="1.25"/></g><g stroke-linejoin="round" stroke-linecap="butt"><path d="M294.2 139.1L294.2 121.48A17.98 17.62 0 0 1 300.93 122.76Z" fill="#F88080" stroke="#592e2e" stroke-width="1.25"/><path d="M294.2 139.1L300.93 122.76A17.98 17.62 0 0 1 302.36 123.4Z" fill="#D0C8A0" stroke="#4a4839" stroke-width="0.8"/><path d="M294.2 139.1L302.36 123.4A17.98 17.62 0 0 1 306.23 126Z" fill="#FFFFC8" stroke="#f4f4c0" stroke-width="1.25"/><path d="M294.2 139.1L306.23 126A17.98 17.62 0 0 1 308.93 128.99Z" fill="#FFF0F4" stroke="#5a4460" stroke-width="1.25"/><path d="M294.2 139.1L308.93 128.99A17.98 17.62 0 0 1 311.9 142.16Z" fill="#20E020" stroke="#0b500b" stroke-width="1.25"/><path d="M294.2 139.1L311.9 142.16A17.98 17.62 0 0 1 309.1 148.95Z" fill="#109010" stroke="#053305" stroke-width="1.25"/><path d="M294.2 139.1L309.1 148.95A17.98 17.62 0 0 1 307.97 150.43Z" fill="#A0A0A0" stroke="#393939" stroke-width="0.8"/><path d="M294.2 139.1L307.97 150.43A17.98 17.62 0 0 1 293.57 156.71Z" fill="#1060E8" stroke="#052253" stroke-width="1.25"/><path d="M294.2 139.1L293.57 156.71A17.98 17.62 0 0 1 289.55 156.12Z" fill="#D8A8FF" stroke="#452a88" stroke-width="1.25"/><path d="M294.2 139.1L289.55 156.12A17.98 17.62 0 0 1 282.17 152.2Z" fill="#A03010" stroke="#391105" stroke-width="1.25"/><path d="M294.2 139.1L282.17 152.2A17.98 17.62 0 0 1 277.42 132.78Z" fill="#FFF020" stroke="#5b560b" stroke-width="1.25"/><path d="M294.2 139.1L277.42 132.78A17.98 17.62 0 0 1 294.2 121.48Z" fill="#E81010" stroke="#530505" stroke-width="1.25"/></g><g stroke-linejoin="round" stroke-linecap="butt"><path d="M267.2 158.5L267.2 141.42A17.42 17.08 0 0 1 268.72 141.49Z" fill="#D0C8A0" stroke="#4a4839" stroke-width="0.8"/><path d="M267.2 158.5L268.72 141.49A17.42 17.08 0 0 1 265.68 175.51Z" fill="#E8F870" stroke="#535928" stroke-width="1.25"/><path d="M267.2 158.5L265.68 175.51A17.42 17.08 0 0 1 259.84 173.98Z" fill="#109010" stroke="#053305" stroke-width="1.25"/><path d="M267.2 158.5L259.84 173.98A17.42 17.08 0 0 1 260.96 142.56Z" fill="#1060E8" stroke="#052253" stroke-width="1.25"/><path d="M267.2 158.5L260.96 142.56A17.42 17.08 0 0 1 265.68 141.49Z" fill="#E8F870" stroke="#535928" stroke-width="1.25"/><path d="M267.2 158.5L265.68 141.49A17.42 17.08 0 0 1 267.2 141.42Z" fill="#D0C8A0" stroke="#4a4839" stroke-width="0.8"/></g><g stroke-linejoin="round" stroke-linecap="butt"><path d="M238.7 170.3L238.7 152.08A18.58 18.22 0 0 1 239.67 152.11Z" fill="#A03010" stroke="#391105" stroke-width="0.4"/><path d="M238.7 170.3L239.67 152.11A18.58 18.22 0 0 1 245.96 153.53Z" fill="#F88080" stroke="#592e2e" stroke-width="1.25"/><path d="M238.7 170.3L245.96 153.53A18.58 18.22 0 0 1 247.14 154.07Z" fill="#D0C8A0" stroke="#4a4839" stroke-width="0.4"/><path d="M238.7 170.3L247.14 154.07A18.58 18.22 0 0 1 250.65 156.35Z" fill="#FFF0F4" stroke="#5a4460" stroke-width="1.25"/><path d="M238.7 170.3L250.65 156.35A18.58 18.22 0 0 1 257.21 171.89Z" fill="#000000" stroke="#000000" stroke-width="1.25"/><path d="M238.7 170.3L257.21 171.89A18.58 18.22 0 0 1 257 173.46Z" fill="#20E020" stroke="#0b500b" stroke-width="0.8"/><path d="M238.7 170.3L257 173.46A18.58 18.22 0 0 1 234.2 187.97Z" fill="#A0A0A0" stroke="#393939" stroke-width="1.25"/><path d="M238.7 170.3L234.2 187.97A18.58 18.22 0 0 1 231.74 187.19Z" fill="#203090" stroke="#0b1133" stroke-width="1.25"/><path d="M238.7 170.3L231.74 187.19A18.58 18.22 0 0 1 226.75 184.25Z" fill="#A03010" stroke="#391105" stroke-width="1.25"/><path d="M238.7 170.3L226.75 184.25A18.58 18.22 0 0 1 238.7 152.08Z" fill="#FFF020" stroke="#5b560b" stroke-width="1.25"/></g><g stroke-linejoin="round" stroke-linecap="butt"><path d="M337.25 143.6L337.25 125.78A18.18 17.82 0 0 1 338.2 125.8Z" fill="#D0C8A0" stroke="#4a4839" stroke-width="0.4"/><path d="M337.25 143.6L338.2 125.8A18.18 17.82 0 0 1 342.87 126.65Z" fill="#F88080" stroke="#592e2e" stroke-width="1.25"/><path d="M337.25 143.6L342.87 126.65A18.18 17.82 0 0 1 343.77 126.96Z" fill="#FFF0F4" stroke="#5a4460" stroke-width="0.4"/><path d="M337.25 143.6L343.77 126.96A18.18 17.82 0 0 1 345.78 127.87Z" fill="#E8F870" stroke="#535928" stroke-width="0.8"/><path d="M337.25 143.6L345.78 127.87A18.18 17.82 0 0 1 355.03 139.9Z" fill="#109010" stroke="#053305" stroke-width="1.25"/><path d="M337.25 143.6L355.03 139.9A18.18 17.82 0 1 1 330.44 127.08Z" fill="#1060E8" stroke="#052253" stroke-width="1.25"/><path d="M337.25 143.6L330.44 127.08A18.18 17.82 0 0 1 334.72 125.95Z" fill="#D8A8FF" stroke="#452a88" stroke-width="1.25"/><path d="M337.25 143.6L334.72 125.95A18.18 17.82 0 0 1 335.98 125.82Z" fill="#A03010" stroke="#391105" stroke-width="0.4"/><path d="M337.25 143.6L335.98 125.82A18.18 17.82 0 0 1 337.25 125.78Z" fill="#F070E0" stroke="#562850" stroke-width="0.4"/></g><g stroke-linejoin="round" stroke-linecap="butt"><path d="M310.3 171.8L310.3 154.08A18.08 17.72 0 0 1 320.67 157.28Z" fill="#F88080" stroke="#592e2e" stroke-width="1.25"/><path d="M310.3 171.8L320.67 157.28A18.08 17.72 0 0 1 324.93 161.38Z" fill="#F4F8A0" stroke="#575939" stroke-width="1.25"/><path d="M310.3 171.8L324.93 161.38A18.08 17.72 0 0 1 328.1 174.88Z" fill="#109010" stroke="#053305" stroke-width="1.25"/><path d="M310.3 171.8L328.1 174.88A18.08 17.72 0 1 1 310.3 154.08Z" fill="#1060E8" stroke="#052253" stroke-width="1.25"/></g><g stroke-linejoin="round" stroke-linecap="butt"><path d="M393.45 137.9L393.45 119.98A18.28 17.92 0 0 1 407.04 125.91Z" fill="#F88080" stroke="#592e2e" stroke-width="1.25"/><path d="M393.45 137.9L407.04 125.91A18.28 17.92 0 0 1 395.99 155.64Z" fill="#E8F870" stroke="#535928" stroke-width="1.25"/><path d="M393.45 137.9L395.99 155.64A18.28 17.92 0 0 1 391.86 155.75Z" fill="#A800A8" stroke="#3c003c" stroke-width="1.25"/><path d="M393.45 137.9L391.86 155.75A18.28 17.92 0 0 1 393.45 119.98Z" fill="#1060E8" stroke="#052253" stroke-width="1.25"/></g><g stroke-linejoin="round" stroke-linecap="butt"><path d="M426.3 71.4L426.3 53.28A18.48 18.12 0 0 1 442.47 80.18Z" fill="#F88080" stroke="#592e2e" stroke-width="1.25"/><path d="M426.3 71.4L442.47 80.18A18.48 18.12 0 0 1 436.09 86.76Z" fill="#F070E0" stroke="#562850" stroke-width="1.25"/><path d="M426.3 71.4L436.09 86.76A18.48 18.12 0 0 1 407.82 71.4Z" fill="#A800A8" stroke="#3c003c" stroke-width="1.25"/><path d="M426.3 71.4L407.82 71.4A18.48 18.12 0 0 1 410.13 62.62Z" fill="#1060E8" stroke="#052253" stroke-width="1.25"/><path d="M426.3 71.4L410.13 62.62A18.48 18.12 0 0 1 426.3 53.28Z" fill="#D8A8FF" stroke="#452a88" stroke-width="1.25"/></g><g stroke-linejoin="round" stroke-linecap="butt"><path d="M463.1 52.6L463.1 34.38A18.58 18.22 0 0 1 463.1 70.82Z" fill="#A800A8" stroke="#3c003c" stroke-width="1.25"/><path d="M463.1 52.6L463.1 70.82A18.58 18.22 0 0 1 458.29 35Z" fill="#D8A8FF" stroke="#452a88" stroke-width="1.25"/><path d="M463.1 52.6L458.29 35A18.58 18.22 0 0 1 463.1 34.38Z" fill="#FFF020" stroke="#5b560b" stroke-width="1.25"/></g><g stroke-linejoin="round" stroke-linecap="butt"><path d="M73.3 156L73.3 138.08A18.28 17.92 0 0 1 74.26 138.11Z" fill="#FFFFC8" stroke="#f4f4c0" stroke-width="0.4"/><path d="M73.3 156L74.26 138.11A18.28 17.92 0 0 1 77.1 138.47Z" fill="#D8FFFF" stroke="#3c5a60" stroke-width="1.25"/><path d="M73.3 156L77.1 138.47A18.28 17.92 0 1 1 55.73 151.06Z" fill="#20E8F8" stroke="#0b5359" stroke-width="1.25"/><path d="M73.3 156L55.73 151.06A18.28 17.92 0 0 1 56.35 149.29Z" fill="#FFF0F4" stroke="#5a4460" stroke-width="0.8"/><path d="M73.3 156L56.35 149.29A18.28 17.92 0 0 1 57.01 147.86Z" fill="#000000" stroke="#000000" stroke-width="0.8"/><path d="M73.3 156L57.01 147.86A18.28 17.92 0 0 1 71.39 138.18Z" fill="#20E020" stroke="#0b500b" stroke-width="1.25"/><path d="M73.3 156L71.39 138.18A18.28 17.92 0 0 1 73.3 138.08Z" fill="#109010" stroke="#053305" stroke-width="0.8"/></g><g stroke-linejoin="round" stroke-linecap="butt"><path d="M78.5 185.3L78.5 167.38A18.28 17.92 0 0 1 92.5 173.78Z" fill="#FFFFC8" stroke="#f4f4c0" stroke-width="1.25"/><path d="M78.5 185.3L92.5 173.78A18.28 17.92 0 1 1 60.29 186.86Z" fill="#D8FFFF" stroke="#3c5a60" stroke-width="1.25"/><path d="M78.5 185.3L60.29 186.86A18.28 17.92 0 0 1 75.96 167.56Z" fill="#20E8F8" stroke="#0b5359" stroke-width="1.25"/><path d="M78.5 185.3L75.96 167.56A18.28 17.92 0 0 1 78.5 167.38Z" fill="#302050" stroke="#110b1c" stroke-width="1.25"/></g><g stroke-linejoin="round" stroke-linecap="butt"><ellipse cx="57.1" cy="213.4" rx="17.98" ry="17.62" fill="#D8FFFF" stroke="#3c5a60" stroke-width="1.25"/><path d="M57.1 213.4 V195.78" fill="none" stroke="#101830" stroke-width="1.7"/></g><g stroke-linejoin="round" stroke-linecap="butt"><path d="M101.3 207.9L101.3 190.28A17.98 17.62 0 0 1 102.55 190.32Z" fill="#A800A8" stroke="#3c003c" stroke-width="0.4"/><path d="M101.3 207.9L102.55 190.32A17.98 17.62 0 0 1 114.87 196.34Z" fill="#FFFFC8" stroke="#f4f4c0" stroke-width="1.25"/><path d="M101.3 207.9L114.87 196.34A17.98 17.62 0 0 1 92.58 223.31Z" fill="#D8FFFF" stroke="#3c5a60" stroke-width="1.25"/><path d="M101.3 207.9L92.58 223.31A17.98 17.62 0 0 1 91.77 222.84Z" fill="#000000" stroke="#000000" stroke-width="0.4"/><path d="M101.3 207.9L91.77 222.84A17.98 17.62 0 0 1 101.3 190.28Z" fill="#A03010" stroke="#391105" stroke-width="1.25"/></g><g stroke-linejoin="round" stroke-linecap="butt"><path d="M115.25 241.2L115.25 223.68A17.88 17.52 0 0 1 116.81 223.74Z" fill="#A8A8F8" stroke="#a0a0f0" stroke-width="0.8"/><path d="M115.25 241.2L116.81 223.74A17.88 17.52 0 0 1 131.03 249.43Z" fill="#FFFFC8" stroke="#f4f4c0" stroke-width="1.25"/><path d="M115.25 241.2L131.03 249.43A17.88 17.52 0 1 1 115.25 223.68Z" fill="#D8FFFF" stroke="#3c5a60" stroke-width="1.25"/></g><g stroke-linejoin="round" stroke-linecap="butt"><path d="M135.8 198L135.8 179.98A18.38 18.02 0 0 1 140.56 215.4Z" fill="#A8A8F8" stroke="#a0a0f0" stroke-width="1.25"/><path d="M135.8 198L140.56 215.4A18.38 18.02 0 0 1 125.79 213.11Z" fill="#FFFFC8" stroke="#f4f4c0" stroke-width="1.25"/><path d="M135.8 198L125.79 213.11A18.38 18.02 0 0 1 120.04 207.28Z" fill="#D8FFFF" stroke="#3c5a60" stroke-width="1.25"/><path d="M135.8 198L120.04 207.28A18.38 18.02 0 0 1 124.74 183.61Z" fill="#20E8F8" stroke="#0b5359" stroke-width="1.25"/><path d="M135.8 198L124.74 183.61A18.38 18.02 0 0 1 134.84 180.01Z" fill="#20E020" stroke="#0b500b" stroke-width="1.25"/><path d="M135.8 198L134.84 180.01A18.38 18.02 0 0 1 135.8 179.98Z" fill="#109010" stroke="#053305" stroke-width="0.4"/></g><g stroke-linejoin="round" stroke-linecap="butt"><path d="M158.75 230.5L158.75 212.38A18.48 18.12 0 0 1 172.49 218.38Z" fill="#A8A8F8" stroke="#a0a0f0" stroke-width="1.25"/><path d="M158.75 230.5L172.49 218.38A18.48 18.12 0 0 1 177.23 230.5Z" fill="#FFFFC8" stroke="#f4f4c0" stroke-width="1.25"/><path d="M158.75 230.5L177.23 230.5A18.48 18.12 0 0 1 171.36 243.75Z" fill="#D8FFFF" stroke="#3c5a60" stroke-width="1.25"/><path d="M158.75 230.5L171.36 243.75A18.48 18.12 0 1 1 151.53 213.82Z" fill="#20E8F8" stroke="#0b5359" stroke-width="1.25"/><path d="M158.75 230.5L151.53 213.82A18.48 18.12 0 0 1 157.14 212.45Z" fill="#20E020" stroke="#0b500b" stroke-width="1.25"/><path d="M158.75 230.5L157.14 212.45A18.48 18.12 0 0 1 158.75 212.38Z" fill="#109010" stroke="#053305" stroke-width="0.8"/></g><g stroke-linejoin="round" stroke-linecap="butt"><path d="M121.5 318.1L121.5 300.08A18.38 18.02 0 0 1 139.48 321.85Z" fill="#A8A8F8" stroke="#a0a0f0" stroke-width="1.25"/><path d="M121.5 318.1L139.48 321.85A18.38 18.02 0 0 1 136.74 328.18Z" fill="#FFFFC8" stroke="#f4f4c0" stroke-width="1.25"/><path d="M121.5 318.1L136.74 328.18A18.38 18.02 0 1 1 112.59 302.34Z" fill="#D8FFFF" stroke="#3c5a60" stroke-width="1.25"/><path d="M121.5 318.1L112.59 302.34A18.38 18.02 0 0 1 121.5 300.08Z" fill="#20E8F8" stroke="#0b5359" stroke-width="1.25"/></g><g stroke-linejoin="round" stroke-linecap="butt"><path d="M241 208.8L241 190.39A18.79 18.41 0 0 1 241.98 190.41Z" fill="#A03010" stroke="#391105" stroke-width="0.4"/><path d="M241 208.8L241.98 190.41A18.79 18.41 0 0 1 245.86 191.01Z" fill="#F88080" stroke="#592e2e" stroke-width="1.25"/><path d="M241 208.8L245.86 191.01A18.79 18.41 0 0 1 258.65 202.5Z" fill="#D0C8A0" stroke="#4a4839" stroke-width="1.25"/><path d="M241 208.8L258.65 202.5A18.79 18.41 0 0 1 256 219.88Z" fill="#000000" stroke="#000000" stroke-width="1.25"/><path d="M241 208.8L256 219.88A18.79 18.41 0 0 1 242.64 227.14Z" fill="#20E020" stroke="#0b500b" stroke-width="1.25"/><path d="M241 208.8L242.64 227.14A18.79 18.41 0 0 1 222.77 204.35Z" fill="#A0A0A0" stroke="#393939" stroke-width="1.25"/><path d="M241 208.8L222.77 204.35A18.79 18.41 0 0 1 223.35 202.5Z" fill="#000000" stroke="#000000" stroke-width="0.8"/><path d="M241 208.8L223.35 202.5A18.79 18.41 0 0 1 230.77 193.36Z" fill="#A03010" stroke="#391105" stroke-width="1.25"/><path d="M241 208.8L230.77 193.36A18.79 18.41 0 0 1 241 190.39Z" fill="#FFF020" stroke="#5b560b" stroke-width="1.25"/></g><g stroke-linejoin="round" stroke-linecap="butt"><path d="M341.5 201.2L341.5 183.97A17.57 17.23 0 0 1 352.32 187.63Z" fill="#F88080" stroke="#592e2e" stroke-width="1.25"/><path d="M341.5 201.2L352.32 187.63A17.57 17.23 0 0 1 353.93 189.02Z" fill="#F4F8A0" stroke="#575939" stroke-width="0.8"/><path d="M341.5 201.2L353.93 189.02A17.57 17.23 0 0 1 356.56 192.33Z" fill="#109010" stroke="#053305" stroke-width="1.25"/><path d="M341.5 201.2L356.56 192.33A17.57 17.23 0 1 1 339.05 184.14Z" fill="#1060E8" stroke="#052253" stroke-width="1.25"/><path d="M341.5 201.2L339.05 184.14A17.57 17.23 0 0 1 341.5 183.97Z" fill="#A03010" stroke="#391105" stroke-width="1.25"/></g><g stroke-linejoin="round" stroke-linecap="butt"><path d="M289.75 227.7L289.75 210.08A17.98 17.62 0 0 1 291.32 210.15Z" fill="#D0C8A0" stroke="#4a4839" stroke-width="0.8"/><path d="M289.75 227.7L291.32 210.15A17.98 17.62 0 0 1 293.49 210.46Z" fill="#FFFFC8" stroke="#f4f4c0" stroke-width="0.8"/><path d="M289.75 227.7L293.49 210.46A17.98 17.62 0 0 1 295.31 210.94Z" fill="#F88080" stroke="#592e2e" stroke-width="0.8"/><path d="M289.75 227.7L295.31 210.94A17.98 17.62 0 0 1 297.63 211.86Z" fill="#FFFFC8" stroke="#f4f4c0" stroke-width="1.25"/><path d="M289.75 227.7L297.63 211.86A17.98 17.62 0 0 1 299.01 212.59Z" fill="#D0C8A0" stroke="#4a4839" stroke-width="0.8"/><path d="M289.75 227.7L299.01 212.59A17.98 17.62 0 0 1 300.82 213.81Z" fill="#FFFFC8" stroke="#f4f4c0" stroke-width="0.8"/><path d="M289.75 227.7L300.82 213.81A17.98 17.62 0 0 1 302.24 215.02Z" fill="#F88080" stroke="#592e2e" stroke-width="0.8"/><path d="M289.75 227.7L302.24 215.02A17.98 17.62 0 0 1 306.94 222.55Z" fill="#109010" stroke="#053305" stroke-width="1.25"/><path d="M289.75 227.7L306.94 222.55A17.98 17.62 0 0 1 307.55 225.25Z" fill="#D0C8A0" stroke="#4a4839" stroke-width="1.25"/><path d="M289.75 227.7L307.55 225.25A17.98 17.62 0 0 1 307.72 227.09Z" fill="#000000" stroke="#000000" stroke-width="0.8"/><path d="M289.75 227.7L307.72 227.09A17.98 17.62 0 1 1 284.49 210.85Z" fill="#1060E8" stroke="#052253" stroke-width="1.25"/><path d="M289.75 227.7L284.49 210.85A17.98 17.62 0 0 1 287.25 210.25Z" fill="#FFFFC8" stroke="#f4f4c0" stroke-width="1.25"/><path d="M289.75 227.7L287.25 210.25A17.98 17.62 0 0 1 289.75 210.08Z" fill="#D0C8A0" stroke="#4a4839" stroke-width="1.25"/></g><g stroke-linejoin="round" stroke-linecap="butt"><path d="M321.7 238.25L321.7 220.33A18.28 17.92 0 0 1 338.53 231.25Z" fill="#F88080" stroke="#592e2e" stroke-width="1.25"/><path d="M321.7 238.25L338.53 231.25A18.28 17.92 0 0 1 339.36 233.61Z" fill="#FFFFC8" stroke="#f4f4c0" stroke-width="1.25"/><path d="M321.7 238.25L339.36 233.61A18.28 17.92 0 0 1 338.65 244.96Z" fill="#109010" stroke="#053305" stroke-width="1.25"/><path d="M321.7 238.25L338.65 244.96A18.28 17.92 0 1 1 321.7 220.33Z" fill="#1060E8" stroke="#052253" stroke-width="1.25"/></g><g stroke-linejoin="round" stroke-linecap="butt"><path d="M283.3 264.2L283.3 246.38A18.18 17.82 0 0 1 284.88 246.45Z" fill="#D0C8A0" stroke="#4a4839" stroke-width="0.8"/><path d="M283.3 264.2L284.88 246.45A18.18 17.82 0 0 1 294.24 249.97Z" fill="#F4F8A0" stroke="#575939" stroke-width="1.25"/><path d="M283.3 264.2L294.24 249.97A18.18 17.82 0 0 1 301.2 261.11Z" fill="#109010" stroke="#053305" stroke-width="1.25"/><path d="M283.3 264.2L301.2 261.11A18.18 17.82 0 1 1 283.3 246.38Z" fill="#1060E8" stroke="#052253" stroke-width="1.25"/></g><g stroke-linejoin="round" stroke-linecap="butt"><path d="M368.25 253.9L368.25 236.08A18.18 17.82 0 0 1 386.42 253.28Z" fill="#F88080" stroke="#592e2e" stroke-width="1.25"/><path d="M368.25 253.9L386.42 253.28A18.18 17.82 0 0 1 384.98 260.86Z" fill="#109010" stroke="#053305" stroke-width="1.25"/><path d="M368.25 253.9L384.98 260.86A18.18 17.82 0 1 1 366.67 236.15Z" fill="#FFA010" stroke="#5b3905" stroke-width="1.25"/><path d="M368.25 253.9L366.67 236.15A18.18 17.82 0 0 1 368.25 236.08Z" fill="#A03010" stroke="#391105" stroke-width="0.8"/></g><g stroke-linejoin="round" stroke-linecap="butt"><path d="M409.05 245.3L409.05 227.68A17.98 17.62 0 0 1 421.76 232.84Z" fill="#F88080" stroke="#592e2e" stroke-width="1.25"/><path d="M409.05 245.3L421.76 232.84A17.98 17.62 0 0 1 396.56 257.98Z" fill="#109010" stroke="#053305" stroke-width="1.25"/><path d="M409.05 245.3L396.56 257.98A17.98 17.62 0 0 1 402.03 229.08Z" fill="#FFA010" stroke="#5b3905" stroke-width="1.25"/><path d="M409.05 245.3L402.03 229.08A17.98 17.62 0 0 1 408.42 227.69Z" fill="#1060E8" stroke="#052253" stroke-width="1.25"/><path d="M409.05 245.3L408.42 227.69A17.98 17.62 0 0 1 409.05 227.68Z" fill="#000000" stroke="#000000" stroke-width="0.4"/></g><g stroke-linejoin="round" stroke-linecap="butt"><path d="M404.55 273.75L404.55 256.03A18.08 17.72 0 0 1 407.07 256.2Z" fill="#D0C8A0" stroke="#4a4839" stroke-width="1.25"/><path d="M404.55 273.75L407.07 256.2A18.08 17.72 0 1 1 393.17 287.52Z" fill="#109010" stroke="#053305" stroke-width="1.25"/><path d="M404.55 273.75L393.17 287.52A18.08 17.72 0 0 1 400.18 256.56Z" fill="#FFA010" stroke="#5b3905" stroke-width="1.25"/><path d="M404.55 273.75L400.18 256.56A18.08 17.72 0 0 1 403.29 256.07Z" fill="#1060E8" stroke="#052253" stroke-width="1.25"/><path d="M404.55 273.75L403.29 256.07A18.08 17.72 0 0 1 404.55 256.03Z" fill="#000000" stroke="#000000" stroke-width="0.4"/></g><g stroke-linejoin="round" stroke-linecap="butt"><path d="M367.7 313.9L367.7 295.98A18.28 17.92 0 1 1 353.1 324.68Z" fill="#F88080" stroke="#592e2e" stroke-width="1.25"/><path d="M367.7 313.9L353.1 324.68A18.28 17.92 0 0 1 352.2 323.4Z" fill="#FFFFC8" stroke="#f4f4c0" stroke-width="0.8"/><path d="M367.7 313.9L352.2 323.4A18.28 17.92 0 0 1 359.4 297.93Z" fill="#109010" stroke="#053305" stroke-width="1.25"/><path d="M367.7 313.9L359.4 297.93A18.28 17.92 0 0 1 367.7 295.98Z" fill="#A03010" stroke="#391105" stroke-width="1.25"/></g><g stroke-linejoin="round" stroke-linecap="butt"><path d="M463.75 367.9L463.75 349.88A18.38 18.02 0 1 1 446.71 361.15Z" fill="#F88080" stroke="#592e2e" stroke-width="1.25"/><path d="M463.75 367.9L446.71 361.15A18.38 18.02 0 0 1 448.16 358.35Z" fill="#FFFFFF" stroke="#3a2a70" stroke-width="1.25"/><path d="M463.75 367.9L448.16 358.35A18.38 18.02 0 0 1 451.21 354.72Z" fill="#A800A8" stroke="#3c003c" stroke-width="1.25"/><path d="M463.75 367.9L451.21 354.72A18.38 18.02 0 0 1 463.75 349.88Z" fill="#1060E8" stroke="#052253" stroke-width="1.25"/></g><g stroke-linejoin="round" stroke-linecap="butt"><path d="M492.75 297.6L492.75 279.78A18.18 17.82 0 0 1 508.49 306.51Z" fill="#F88080" stroke="#592e2e" stroke-width="1.25"/><path d="M492.75 297.6L508.49 306.51A18.18 17.82 0 0 1 505.83 309.98Z" fill="#109010" stroke="#053305" stroke-width="1.25"/><path d="M492.75 297.6L505.83 309.98A18.18 17.82 0 0 1 499.85 314Z" fill="#FFA010" stroke="#5b3905" stroke-width="1.25"/><path d="M492.75 297.6L499.85 314A18.18 17.82 0 1 1 492.75 279.78Z" fill="#1060E8" stroke="#052253" stroke-width="1.25"/></g><g stroke-linejoin="round" stroke-linecap="butt"><path d="M549.75 297.1L549.75 279.38A18.08 17.72 0 1 1 545.99 314.43Z" fill="#F88080" stroke="#592e2e" stroke-width="1.25"/><path d="M549.75 297.1L545.99 314.43A18.08 17.72 0 0 1 537.42 310.06Z" fill="#109010" stroke="#053305" stroke-width="1.25"/><path d="M549.75 297.1L537.42 310.06A18.08 17.72 0 0 1 549.75 279.38Z" fill="#1060E8" stroke="#052253" stroke-width="1.25"/></g><g stroke-linejoin="round" stroke-linecap="butt"><path d="M527.05 60.1L527.05 42.28A18.18 17.82 0 0 1 535.58 75.83Z" fill="#F88080" stroke="#592e2e" stroke-width="1.25"/><path d="M527.05 60.1L535.58 75.83A18.18 17.82 0 0 1 517.96 44.67Z" fill="#D8A8FF" stroke="#452a88" stroke-width="1.25"/><path d="M527.05 60.1L517.96 44.67A18.18 17.82 0 0 1 527.05 42.28Z" fill="#FFFFFF" stroke="#3a2a70" stroke-width="1.25"/></g><g stroke-linejoin="round" stroke-linecap="butt"><path d="M566.2 55.7L566.2 37.68A18.38 18.02 0 1 1 560.83 38.47Z" fill="#D8A8FF" stroke="#452a88" stroke-width="1.25"/><path d="M566.2 55.7L560.83 38.47A18.38 18.02 0 0 1 566.2 37.68Z" fill="#FFFFFF" stroke="#3a2a70" stroke-width="1.25"/></g><g stroke-linejoin="round" stroke-linecap="butt"><path d="M626.25 84L626.25 65.88A18.48 18.12 0 0 1 632.57 66.98Z" fill="#F88080" stroke="#592e2e" stroke-width="1.25"/><path d="M626.25 84L632.57 66.98A18.48 18.12 0 1 1 622.41 66.28Z" fill="#D8A8FF" stroke="#452a88" stroke-width="1.25"/><path d="M626.25 84L622.41 66.28A18.48 18.12 0 0 1 626.25 65.88Z" fill="#FFFFFF" stroke="#3a2a70" stroke-width="1.25"/></g><g stroke-linejoin="round" stroke-linecap="butt"><path d="M658.95 110.5L658.95 92.28A18.58 18.22 0 0 1 675.36 101.95Z" fill="#F88080" stroke="#592e2e" stroke-width="1.25"/><path d="M658.95 110.5L675.36 101.95A18.58 18.22 0 1 1 651.99 93.61Z" fill="#D8A8FF" stroke="#452a88" stroke-width="1.25"/><path d="M658.95 110.5L651.99 93.61A18.58 18.22 0 0 1 658.95 92.28Z" fill="#FFFFFF" stroke="#3a2a70" stroke-width="1.25"/></g><g stroke-linejoin="round" stroke-linecap="butt"><path d="M602 138.5L602 120.48A18.38 18.02 0 1 1 600.08 120.58Z" fill="#D8A8FF" stroke="#452a88" stroke-width="1.25"/><path d="M602 138.5L600.08 120.58A18.38 18.02 0 0 1 602 120.48Z" fill="#FFFFFF" stroke="#3a2a70" stroke-width="0.8"/></g><g stroke-linejoin="round" stroke-linecap="butt"><path d="M633.2 140.9L633.2 122.88A18.38 18.02 0 0 1 648.07 130.31Z" fill="#F88080" stroke="#592e2e" stroke-width="1.25"/><path d="M633.2 140.9L648.07 130.31A18.38 18.02 0 1 1 630.01 123.16Z" fill="#D8A8FF" stroke="#452a88" stroke-width="1.25"/><path d="M633.2 140.9L630.01 123.16A18.38 18.02 0 0 1 633.2 122.88Z" fill="#FFFFFF" stroke="#3a2a70" stroke-width="1.25"/></g><g stroke-linejoin="round" stroke-linecap="butt"><path d="M759.95 47.7L759.95 29.78A18.28 17.92 0 0 1 764.68 30.39Z" fill="#F88080" stroke="#592e2e" stroke-width="1.25"/><path d="M759.95 47.7L764.68 30.39A18.28 17.92 0 1 1 751.37 31.88Z" fill="#D8A8FF" stroke="#452a88" stroke-width="1.25"/><path d="M759.95 47.7L751.37 31.88A18.28 17.92 0 0 1 759.95 29.78Z" fill="#FFFFFF" stroke="#3a2a70" stroke-width="1.25"/></g><g stroke-linejoin="round" stroke-linecap="butt"><path d="M676.25 204.7L676.25 186.68A18.38 18.02 0 1 1 671.18 187.38Z" fill="#D8A8FF" stroke="#452a88" stroke-width="1.25"/><path d="M676.25 204.7L671.18 187.38A18.38 18.02 0 0 1 676.25 186.68Z" fill="#E8E8E8" stroke="#3a2a70" stroke-width="1.25"/></g><g stroke-linejoin="round" stroke-linecap="butt"><path d="M713.75 227L713.75 209.18A18.18 17.82 0 1 1 711.85 209.28Z" fill="#D8A8FF" stroke="#452a88" stroke-width="1.25"/><path d="M713.75 227L711.85 209.28A18.18 17.82 0 0 1 713.75 209.18Z" fill="#E8E8E8" stroke="#3a2a70" stroke-width="0.8"/></g><g stroke-linejoin="round" stroke-linecap="butt"><path d="M748.25 255.25L748.25 238.12A17.47 17.13 0 1 1 746.42 238.22Z" fill="#D8A8FF" stroke="#452a88" stroke-width="1.25"/><path d="M748.25 255.25L746.42 238.22A17.47 17.13 0 0 1 748.25 238.12Z" fill="#E8E8E8" stroke="#3a2a70" stroke-width="0.8"/></g><g stroke-linejoin="round" stroke-linecap="butt"><path d="M733.4 332.75L733.4 314.83A18.28 17.92 0 1 1 731.49 314.93Z" fill="#D8A8FF" stroke="#452a88" stroke-width="1.25"/><path d="M733.4 332.75L731.49 314.93A18.28 17.92 0 0 1 733.4 314.83Z" fill="#E8E8E8" stroke="#3a2a70" stroke-width="0.8"/></g><rect x="355" y="404" width="13.5" height="15.5" fill="#A8A8F8" stroke="#888" stroke-width="1"/><rect x="402.5" y="404" width="13.5" height="15.5" fill="#FFFFC8" stroke="#888" stroke-width="1"/><rect x="450" y="404" width="13.5" height="15.5" fill="#F88080" stroke="#888" stroke-width="1"/><rect x="497.5" y="404" width="13.5" height="15.5" fill="#E8F870" stroke="#888" stroke-width="1"/><rect x="545" y="404" width="13.5" height="15.5" fill="#D8FFFF" stroke="#888" stroke-width="1"/><rect x="605.5" y="404" width="13.5" height="15.5" fill="#20E8F8" stroke="#888" stroke-width="1"/><rect x="653" y="404" width="13.5" height="15.5" fill="#D0C8A0" stroke="#888" stroke-width="1"/><rect x="355" y="424" width="13.5" height="15.5" fill="#FFF0F4" stroke="#888" stroke-width="1"/><rect x="402.5" y="424" width="13.5" height="15.5" fill="#000000" stroke="#888" stroke-width="1"/><rect x="450" y="424" width="13.5" height="15.5" fill="#F070E0" stroke="#888" stroke-width="1"/><rect x="497.5" y="424" width="13.5" height="15.5" fill="#20E020" stroke="#888" stroke-width="1"/><rect x="545" y="424" width="13.5" height="15.5" fill="#109010" stroke="#888" stroke-width="1"/><rect x="605.5" y="424" width="13.5" height="15.5" fill="#A0A0A0" stroke="#888" stroke-width="1"/><rect x="653" y="424" width="13.5" height="15.5" fill="#FFA010" stroke="#888" stroke-width="1"/><rect x="355" y="444.8" width="13.5" height="15.5" fill="#A800A8" stroke="#888" stroke-width="1"/><rect x="402.5" y="444.8" width="13.5" height="15.5" fill="#1060E8" stroke="#888" stroke-width="1"/><rect x="450" y="444.8" width="13.5" height="15.5" fill="#E8E8E8" stroke="#888" stroke-width="1"/><rect x="497.5" y="444.8" width="13.5" height="15.5" fill="#D8A8FF" stroke="#888" stroke-width="1"/><rect x="545" y="444.8" width="13.5" height="15.5" fill="#A03010" stroke="#888" stroke-width="1"/><rect x="605.5" y="444.8" width="13.5" height="15.5" fill="#FFF020" stroke="#888" stroke-width="1"/><rect x="653" y="444.8" width="13.5" height="15.5" fill="#E81010" stroke="#888" stroke-width="1"/><rect x="700.5" y="444.8" width="13.5" height="15.5" fill="#FFFFFF" stroke="#888" stroke-width="1"/></svg>
<div style="position:absolute;left:0;top:0;width:800px;height:579px;opacity:.999;will-change:opacity">
<div class="t m" style="left:40.8px;top:24px">IC</div>
<div class="t m" style="left:81.75px;top:26.55px">NW</div>
<div class="t m" style="left:16.8px;top:77.55px">SC</div>
<div class="t m" style="left:63.2px;top:90.6px">GM</div>
<div class="t m" style="left:23.75px;top:114.3px">IB</div>
<div class="t m" style="left:107.5px;top:142.5px">IT</div>
<div class="t m" style="left:116px;top:78px">RU</div>
<div class="t m" style="left:125px;top:102.3px">TU</div>
<div class="t m" style="left:38px;top:153.75px">MC</div>
<div class="t m" style="left:46.25px;top:184.05px">ML</div>
<div class="t m" style="left:27.8px;top:205.6px">BF</div>
<div class="t m" style="left:80.75px;top:224.8px">CN</div>
<div class="t m" style="left:129.2px;top:172px">SN</div>
<div class="t m" style="left:165.8px;top:249.55px">ET</div>
<div class="t m" style="left:162px;top:172px">MA</div>
<div class="t m" style="left:188.75px;top:170.8px">PE</div>
<div class="t m" style="left:110.75px;top:261.3px">PY</div>
<div class="t m" style="left:90px;top:313.8px">SF</div>
<div class="t m" style="left:149.3px;top:25.05px">SA</div>
<div class="t m" style="left:178.25px;top:75.6px">KT</div>
<div class="t m" style="left:167px;top:88.05px">GE</div>
<div class="t m" style="left:202.8px;top:31.75px">NE</div>
<div class="t m" style="left:246px;top:41.8px">SL</div>
<div class="t m" style="left:274.5px;top:52px">AL</div>
<div class="t m" style="left:300.45px;top:79px">MO</div>
<div class="t m" style="left:261.75px;top:100.3px">KZ</div>
<div class="t m" style="left:262.5px;top:110.8px">KG</div>
<div class="t m" style="left:309.75px;top:124.6px">UG</div>
<div class="t m" style="left:217.7px;top:138px">UZ</div>
<div class="t m" style="left:208.25px;top:180.6px">IN</div>
<div class="t m" style="left:267.8px;top:176.55px">TB</div>
<div class="t m" style="left:350px;top:158.1px">HA</div>
<div class="t m" style="left:330.8px;top:168.3px">HA</div>
<div class="t m" style="left:330.8px;top:30.8px">EV</div>
<div class="t m" style="left:379.7px;top:22.55px">YA</div>
<div class="t m" style="left:354px;top:83px">BU</div>
<div class="t m" style="left:412.8px;top:130.55px">JP</div>
<div class="t m" style="left:423px;top:93.5px">KY</div>
<div class="t m" style="left:462.3px;top:74.75px">ES</div>
<div class="t m" style="left:521px;top:31.55px">AM</div>
<div class="t m" style="left:562.3px;top:26.75px">ES</div>
<div class="t m" style="left:619px;top:55.6px">CW</div>
<div class="t m" style="left:680px;top:105.1px">CY</div>
<div class="t m" style="left:567.2px;top:135.3px">AM</div>
<div class="t m" style="left:653px;top:142.8px">AP</div>
<div class="t m" style="left:757.5px;top:74.3px">ES</div>
<div class="t m" style="left:643px;top:205px">AM</div>
<div class="t m" style="left:678.2px;top:228.1px">AM</div>
<div class="t m" style="left:715.7px;top:256.05px">AM</div>
<div class="t m" style="left:697.25px;top:331.3px">AM</div>
<div class="t m" style="left:488.25px;top:268.05px">WS</div>
<div class="t m" style="left:546px;top:268.5px">FP</div>
<div class="t m" style="left:486.7px;top:363.55px">MI</div>
<div class="t m" style="left:333.2px;top:312.05px">AA</div>
<div class="t m" style="left:420.5px;top:285.05px">PG</div>
<div class="t m" style="left:365.5px;top:225.5px">IJ</div>
<div class="t m" style="left:404px;top:219.05px">NB</div>
<div class="t m" style="left:256.3px;top:228.8px">MY</div>
<div class="t m" style="left:318.25px;top:259.3px">BO</div>
<div class="t m" style="left:276px;top:284.5px">SU</div>
<div class="t m" style="left:363px;top:195.5px">PH</div>
<div class="t m" style="left:209.5px;top:217.3px">DR</div>
<div class="t l" style="left:28.9px;top:356.7px">AA</div>
<div class="t l" style="left:49.7px;top:356.7px">Australian</div>
<div class="t l" style="left:130.5px;top:356.7px">IB</div>
<div class="t l" style="left:151.7px;top:356.7px">Iberia</div>
<div class="t l" style="left:218.9px;top:356.7px">NW</div>
<div class="t l" style="left:239.3px;top:356.7px">Norwegian</div>
<div class="t l" style="left:49.7px;top:367.56px">Aborigines</div>
<div class="t l" style="left:130.5px;top:367.56px">IC</div>
<div class="t l" style="left:151.7px;top:367.56px">Iceland</div>
<div class="t l" style="left:218.9px;top:367.56px">PE</div>
<div class="t l" style="left:239.3px;top:367.56px">Persian (Iran)</div>
<div class="t l" style="left:28.9px;top:378.42px">AL</div>
<div class="t l" style="left:49.7px;top:378.42px">Altaians</div>
<div class="t l" style="left:130.5px;top:378.42px">IJ</div>
<div class="t l" style="left:151.7px;top:378.42px">Irian Jaya</div>
<div class="t l" style="left:218.9px;top:378.42px">PG</div>
<div class="t l" style="left:239.3px;top:378.42px">Papua New Guinea</div>
<div class="t l" style="left:28.9px;top:389.28px">AM</div>
<div class="t l" style="left:49.7px;top:389.28px">Amerinds</div>
<div class="t l" style="left:151.7px;top:389.28px">Highlands</div>
<div class="t l" style="left:239.3px;top:389.28px">Highlands</div>
<div class="t l" style="left:28.9px;top:400.14px">AP</div>
<div class="t l" style="left:49.7px;top:400.14px">Apache (N-D)</div>
<div class="t l" style="left:130.5px;top:400.14px">IN</div>
<div class="t l" style="left:151.7px;top:400.14px">Indo-European</div>
<div class="t l" style="left:218.9px;top:400.14px">PH</div>
<div class="t l" style="left:239.3px;top:400.14px">Philippines</div>
<div class="t l" style="left:28.9px;top:411px">BF</div>
<div class="t l" style="left:49.7px;top:411px">Burkina Faso</div>
<div class="t l" style="left:130.5px;top:411px">IT</div>
<div class="t l" style="left:151.7px;top:411px">Italy</div>
<div class="t l" style="left:218.9px;top:411px">PY</div>
<div class="t l" style="left:239.3px;top:411px">Pygmy</div>
<div class="t l" style="left:28.9px;top:421.86px">BO</div>
<div class="t l" style="left:49.7px;top:421.86px">Borneo</div>
<div class="t l" style="left:130.5px;top:421.86px">JP</div>
<div class="t l" style="left:151.7px;top:421.86px">Japan</div>
<div class="t l" style="left:218.9px;top:421.86px">RU</div>
<div class="t l" style="left:239.3px;top:421.86px">Russia</div>
<div class="t l" style="left:28.9px;top:432.72px">BU</div>
<div class="t l" style="left:49.7px;top:432.72px">Buryats</div>
<div class="t l" style="left:130.5px;top:432.72px">KG</div>
<div class="t l" style="left:151.7px;top:432.72px">Kyrgyzstan</div>
<div class="t l" style="left:218.9px;top:432.72px">SA</div>
<div class="t l" style="left:239.3px;top:432.72px">Saami</div>
<div class="t l" style="left:28.9px;top:443.58px">CN</div>
<div class="t l" style="left:49.7px;top:443.58px">Cameroon</div>
<div class="t l" style="left:130.5px;top:443.58px">KT</div>
<div class="t l" style="left:151.7px;top:443.58px">Kazan Tatar</div>
<div class="t l" style="left:218.9px;top:443.58px">SC</div>
<div class="t l" style="left:239.3px;top:443.58px">Scotland</div>
<div class="t l" style="left:28.9px;top:454.44px">CW</div>
<div class="t l" style="left:49.7px;top:454.44px">Chippeway (N-D)</div>
<div class="t l" style="left:130.5px;top:454.44px">KY</div>
<div class="t l" style="left:151.7px;top:454.44px">Koryaks</div>
<div class="t l" style="left:218.9px;top:454.44px">SL</div>
<div class="t l" style="left:239.3px;top:454.44px">Selkups</div>
<div class="t l" style="left:28.9px;top:465.3px">CY</div>
<div class="t l" style="left:49.7px;top:465.3px">Cheyenne</div>
<div class="t l" style="left:130.5px;top:465.3px">KZ</div>
<div class="t l" style="left:151.7px;top:465.3px">Kazakhstan</div>
<div class="t l" style="left:218.9px;top:465.3px">SF</div>
<div class="t l" style="left:239.3px;top:465.3px">South Africa</div>
<div class="t l" style="left:28.9px;top:476.16px">DR</div>
<div class="t l" style="left:49.7px;top:476.16px">Dravidian</div>
<div class="t l" style="left:130.5px;top:476.16px">MA</div>
<div class="t l" style="left:151.7px;top:476.16px">Mideast Arabs</div>
<div class="t l" style="left:218.9px;top:476.16px">SN</div>
<div class="t l" style="left:239.3px;top:476.16px">Sudan</div>
<div class="t l" style="left:28.9px;top:487.02px">ES</div>
<div class="t l" style="left:49.7px;top:487.02px">Eskimos</div>
<div class="t l" style="left:130.5px;top:487.02px">MC</div>
<div class="t l" style="left:151.7px;top:487.02px">Morocco</div>
<div class="t l" style="left:218.9px;top:487.02px">SU</div>
<div class="t l" style="left:239.3px;top:487.02px">Sumatra</div>
<div class="t l" style="left:28.9px;top:497.88px">ET</div>
<div class="t l" style="left:49.7px;top:497.88px">Ethiopia</div>
<div class="t l" style="left:130.5px;top:497.88px">MI</div>
<div class="t l" style="left:151.7px;top:497.88px">Maori</div>
<div class="t l" style="left:218.9px;top:497.88px">TB</div>
<div class="t l" style="left:239.3px;top:497.88px">Tibet</div>
<div class="t l" style="left:28.9px;top:508.74px">EV</div>
<div class="t l" style="left:49.7px;top:508.74px">Evenks</div>
<div class="t l" style="left:130.5px;top:508.74px">ML</div>
<div class="t l" style="left:151.7px;top:508.74px">Mali</div>
<div class="t l" style="left:218.9px;top:508.74px">TU</div>
<div class="t l" style="left:239.3px;top:508.74px">Turkish</div>
<div class="t l" style="left:28.9px;top:519.6px">FP</div>
<div class="t l" style="left:49.7px;top:519.6px">French Polynesia</div>
<div class="t l" style="left:130.5px;top:519.6px">MO</div>
<div class="t l" style="left:151.7px;top:519.6px">Mongols</div>
<div class="t l" style="left:218.9px;top:519.6px">UG</div>
<div class="t l" style="left:239.3px;top:519.6px">Uygurs</div>
<div class="t l" style="left:28.9px;top:530.46px">GE</div>
<div class="t l" style="left:49.7px;top:530.46px">Georgia-Armenia</div>
<div class="t l" style="left:130.5px;top:530.46px">MY</div>
<div class="t l" style="left:151.7px;top:530.46px">Malaysia</div>
<div class="t l" style="left:218.9px;top:530.46px">UZ</div>
<div class="t l" style="left:239.3px;top:530.46px">Uzbek</div>
<div class="t l" style="left:28.9px;top:541.32px">GM</div>
<div class="t l" style="left:49.7px;top:541.32px">Germany</div>
<div class="t l" style="left:130.5px;top:541.32px">NB</div>
<div class="t l" style="left:151.7px;top:541.32px">New Britain</div>
<div class="t l" style="left:218.9px;top:541.32px">WS</div>
<div class="t l" style="left:239.3px;top:541.32px">Western Samoa</div>
<div class="t l" style="left:28.9px;top:552.18px">HA</div>
<div class="t l" style="left:49.7px;top:552.18px">Han Chinese</div>
<div class="t l" style="left:130.5px;top:552.18px">NE</div>
<div class="t l" style="left:151.7px;top:552.18px">Nenets</div>
<div class="t l" style="left:218.9px;top:552.18px">YA</div>
<div class="t l" style="left:239.3px;top:552.18px">Yakuts</div>
<div class="t g" style="left:376px;top:406px">A</div>
<div class="t g" style="left:423.5px;top:406px">B</div>
<div class="t g" style="left:471px;top:406px">C</div>
<div class="t g" style="left:518.5px;top:406px">D</div>
<div class="t g" style="left:566px;top:406px">ExE3b</div>
<div class="t g" style="left:626.5px;top:406px">E3b</div>
<div class="t g" style="left:674px;top:406px">F</div>
<div class="t g" style="left:376px;top:426px">G</div>
<div class="t g" style="left:423.5px;top:426px">H</div>
<div class="t g" style="left:471px;top:426px">I</div>
<div class="t g" style="left:518.5px;top:426px">J</div>
<div class="t g" style="left:566px;top:426px">K</div>
<div class="t g" style="left:626.5px;top:426px">L</div>
<div class="t g" style="left:674px;top:426px">M</div>
<div class="t g" style="left:376px;top:446.8px">N</div>
<div class="t g" style="left:423.5px;top:446.8px">O</div>
<div class="t g" style="left:471px;top:446.8px">P</div>
<div class="t g" style="left:518.5px;top:446.8px">Q</div>
<div class="t g" style="left:566px;top:446.8px">RxR1</div>
<div class="t g" style="left:626.5px;top:446.8px">R1a</div>
<div class="t g" style="left:674px;top:446.8px">R1b</div>
<div class="t g" style="left:722.5px;top:446.8px">Other</div>
<div class="t p" style="left:354.5px;top:479.1px">The data in this map is supposed to represent the situation before the recent European expansion</div>
<div class="t p" style="left:354.5px;top:490.03px">beginning about 1500 AD. In some cases such as some Native American tribes and the Maori this</div>
<div class="t p" style="left:354.5px;top:500.96px">can be done reliably because STR typing was done. In other cases, especially in America, it is</div>
<div class="t p" style="left:354.5px;top:511.89px">guesswork. The “Other” sectors in America indicate this. Native American groups are labeled by</div>
<div class="t p" style="left:354.5px;top:522.82px">language group as Amerind, Na-Dene (N-D), and Eskimo.&nbsp; F, K, L, and P are in some cases</div>
<div class="t p" style="left:354.5px;top:533.75px">“catchall” groups because some researchers did not use enough markers for a full haplotype</div>
<div class="t p" style="left:354.5px;top:544.68px">determination.</div>
<div class="t p" style="left:354.5px;top:560.9px">Copyright © 2005 J. D. McDonald</div>
<div class="t h" style="left:436.2px;top:165.2px">Y Haplogroups</div>
<div class="t h" style="left:447px;top:180.5px">of the World</div>
</div>
</body></html>
